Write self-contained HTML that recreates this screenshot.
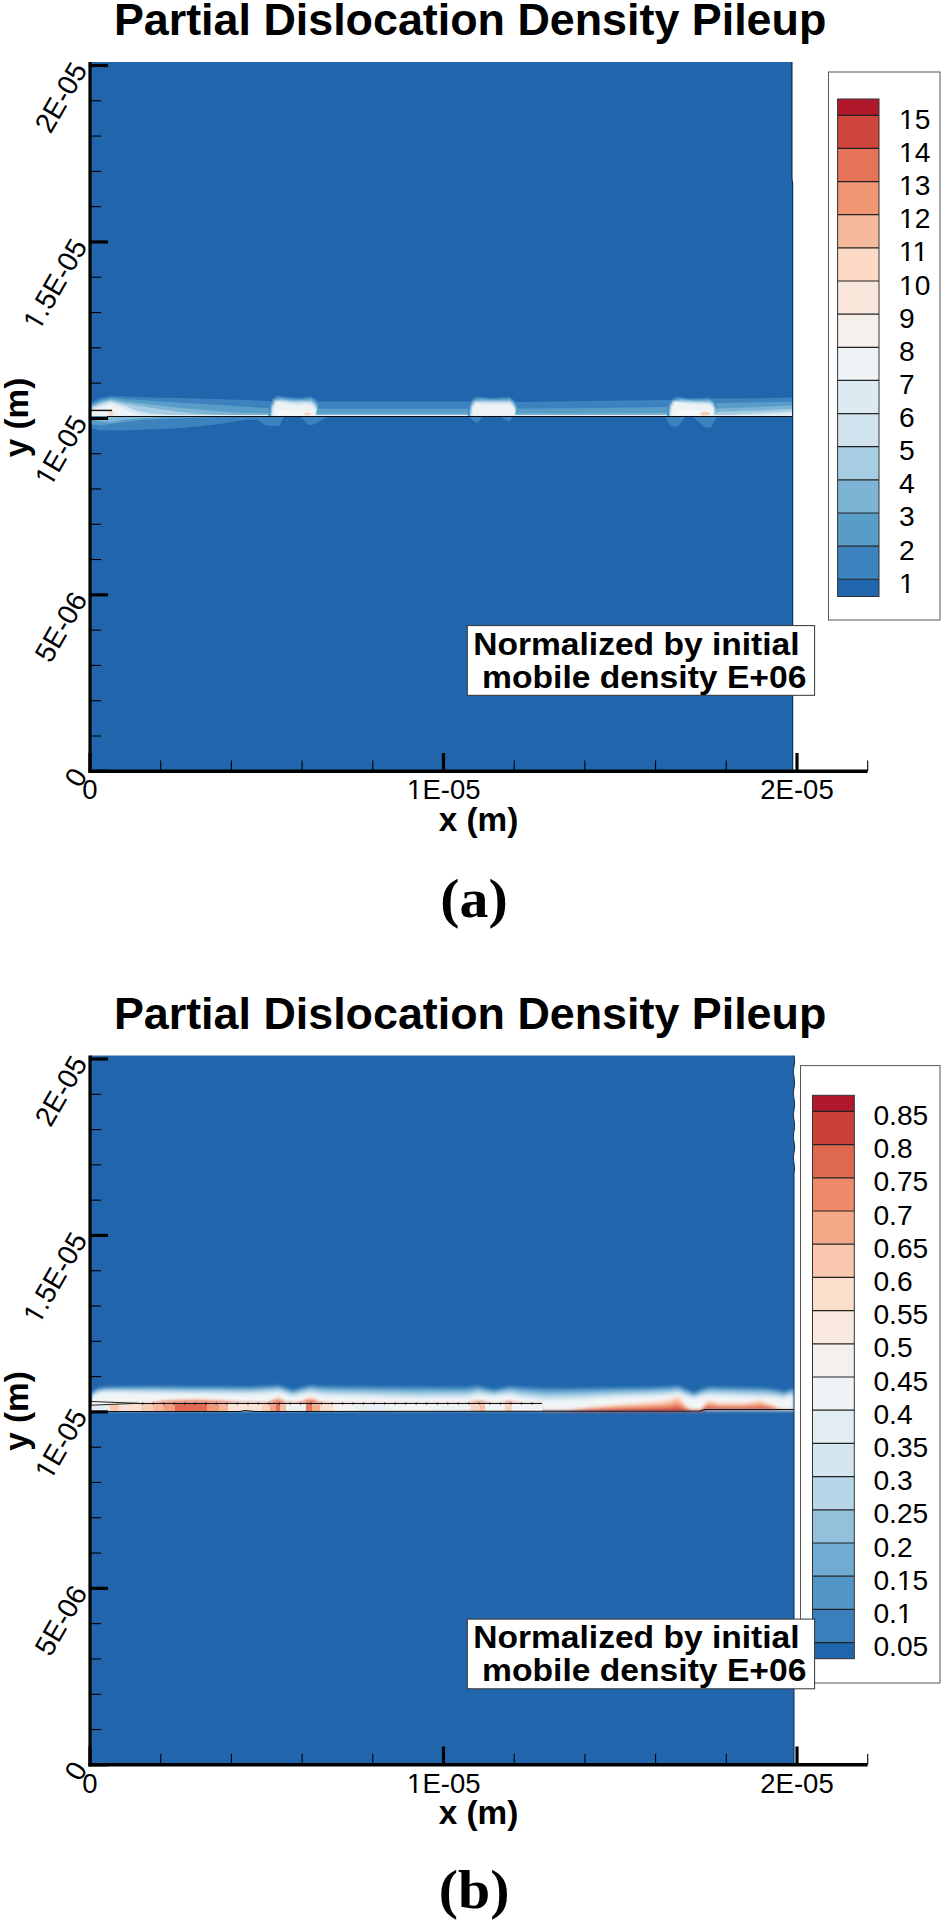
<!DOCTYPE html>
<html><head><meta charset="utf-8"><title>Partial Dislocation Density Pileup</title>
<style>html,body{margin:0;padding:0;background:#fff;} svg{display:block;}</style></head>
<body>
<svg width="943" height="1923" viewBox="0 0 943 1923">
<defs>
<clipPath id="clipB"><rect x="91.5" y="0" width="702.2" height="771"/></clipPath>
<clipPath id="clipA"><rect x="91.5" y="0" width="700.5" height="771"/></clipPath>
<filter id="soft" x="-5%" y="-50%" width="110%" height="200%"><feGaussianBlur stdDeviation="0.6"/></filter>
<filter id="soft2" x="-5%" y="-50%" width="110%" height="200%"><feGaussianBlur stdDeviation="1.5"/></filter>
<filter id="blur3" x="-50%" y="-100%" width="200%" height="300%"><feGaussianBlur stdDeviation="2.5"/></filter>
<linearGradient id="gb" x1="0" y1="0" x2="0" y2="1">
<stop offset="0" stop-color="#2166ac"/><stop offset="0.08" stop-color="#4a8fc4"/><stop offset="0.2" stop-color="#9cc8e0"/>
<stop offset="0.35" stop-color="#d8e8f2"/><stop offset="0.55" stop-color="#f0f4f6"/><stop offset="0.85" stop-color="#f6f5f4"/><stop offset="1" stop-color="#f8f0eb"/>
</linearGradient>
<linearGradient id="gv" x1="0" y1="0" x2="0" y2="1">
<stop offset="0" stop-color="#2166ac" stop-opacity="1"/><stop offset="0.5" stop-color="#4a8fc4" stop-opacity="0.8"/><stop offset="1" stop-color="#9cc8e0" stop-opacity="0"/>
</linearGradient>
</defs>
<rect width="943" height="1923" fill="#fff"/>
<g transform="translate(0,0)">
<text transform="translate(470.1,35.2) scale(1.031,1)" text-anchor="middle" font-family="'Liberation Sans', Arial, Helvetica, sans-serif" font-weight="bold" font-size="43.5">Partial Dislocation Density Pileup</text>
<path d="M90,62 H792.3 V179 L793.1,183 V771 H90 Z" fill="#2166ac"/>
<path d="M791.9,62 V179 L792.7,183 V771" fill="none" stroke="#15263d" stroke-width="1"/>
<g filter="url(#soft)">
<polygon points="90.0,403.0 92.0,402.0 100.0,398.0 111.0,396.0 125.0,396.5 148.0,397.6 180.0,398.0 230.0,399.5 268.0,401.0 320.0,401.5 400.0,401.5 466.0,401.5 520.0,402.0 560.0,401.5 620.0,400.5 665.0,400.0 718.0,398.6 760.0,398.2 792.0,397.5 792.0,416.5 90.0,416.5" fill="#3c82be" />
<polygon points="90.0,405.0 92.0,404.0 100.0,400.0 111.0,397.5 125.0,399.0 148.0,400.5 180.0,402.8 220.0,405.0 265.0,408.0 330.0,408.7 460.0,408.7 530.0,408.5 600.0,408.0 665.0,407.0 718.0,403.0 760.0,402.3 792.0,401.7 792.0,416.5 90.0,416.5" fill="#589cc8" />
<polygon points="90.0,406.5 92.0,405.5 100.0,401.5 111.0,399.0 125.0,401.5 148.0,404.0 180.0,408.0 240.0,413.0 330.0,413.4 600.0,413.4 665.0,413.0 718.0,408.6 760.0,407.0 792.0,405.5 792.0,416.5 90.0,416.5" fill="#7db4d6" />
<polygon points="90.0,408.0 92.0,407.0 100.0,403.0 111.0,400.3 125.0,403.5 148.0,407.2 180.0,412.0 200.0,414.0 230.0,415.0 700.0,415.0 720.0,412.0 760.0,410.5 792.0,409.0 792.0,416.5 90.0,416.5" fill="#a6cde2" />
<polygon points="90.0,409.5 92.0,408.5 100.0,404.5 111.0,401.6 125.0,405.5 135.0,410.0 148.0,413.0 170.0,415.0 190.0,415.2 730.0,415.2 745.0,414.0 792.0,411.5 792.0,416.5 90.0,416.5" fill="#d0e3ee" />
<polygon points="90.0,411.0 92.0,410.0 100.0,406.0 111.0,402.8 125.0,407.5 135.0,412.0 148.0,414.8 165.0,415.7 755.0,415.5 770.0,414.5 792.0,413.0 792.0,416.5 90.0,416.5" fill="#deeaf2" />
<polygon points="90.0,412.5 92.0,411.5 100.0,407.5 111.0,404.0 125.0,409.5 130.0,412.5 140.0,415.3 160.0,415.8 770.0,415.7 792.0,414.5 792.0,416.5 90.0,416.5" fill="#eef3f6" />
<rect x="91" y="415.0" width="701" height="1" fill="#e6f0f6"/>
<polygon points="268.5,416.5 269.5,405.0 272.5,399.0 277.0,395.6 288.0,397.0 300.0,397.8 311.0,396.5 316.0,399.5 319.5,405.0" fill="#3c82be" />
<polygon points="269.3,416.5 270.3,405.6 273.3,399.5 278.7,397.0 289.7,398.4 301.3,398.9 311.1,398.1 315.8,401.1 318.9,406.6" fill="#589cc8" />
<polygon points="270.1,416.5 271.1,406.1 274.1,400.0 280.4,398.4 291.4,399.9 302.6,400.0 311.3,399.6 315.6,402.8 318.4,408.3" fill="#7db4d6" />
<polygon points="270.9,416.5 271.9,406.7 274.9,400.5 282.1,399.8 293.1,401.3 303.9,401.1 311.4,401.2 315.4,404.4 317.8,409.9" fill="#a6cde2" />
<polygon points="271.6,416.5 272.6,407.3 275.6,401.0 283.9,401.3 294.9,402.7 305.1,402.2 311.6,402.8 315.1,406.1 317.2,411.6" fill="#d0e3ee" />
<polygon points="272.4,416.5 273.4,407.9 276.4,401.5 285.6,402.7 296.6,404.1 306.4,403.3 311.7,404.4 314.9,407.7 316.6,413.2" fill="#deeaf2" />
<polygon points="273.2,416.5 274.2,408.4 277.2,402.0 287.3,404.1 298.3,405.6 307.7,404.4 311.9,405.9 314.7,409.4 316.1,414.9" fill="#eef3f6" />
<polygon points="274.0,416.5 275.0,409.0 278.0,402.5 289.0,405.5 300.0,407.0 309.0,405.5 312.0,407.5 314.5,411.0 315.5,416.5" fill="#edf2f5" />
<polygon points="277.0,416.5 279.0,410.5 300.0,411.5 311.0,411.0 313.0,416.5" fill="#f6f7f7" />
<polygon points="467.8,416.5 469.0,405.0 472.0,399.5 476.3,396.5 490.0,398.0 509.4,397.0 514.0,400.0 518.0,406.0" fill="#3c82be" />
<polygon points="468.5,416.5 469.7,405.6 472.8,400.1 478.3,397.9 492.1,399.1 509.6,398.3 513.9,401.4 517.5,407.5" fill="#589cc8" />
<polygon points="469.3,416.5 470.4,406.1 473.6,400.8 480.2,399.4 494.3,400.1 509.9,399.6 513.9,402.9 517.0,409.0" fill="#7db4d6" />
<polygon points="470.0,416.5 471.1,406.7 474.4,401.4 482.2,400.8 496.4,401.2 510.1,400.9 513.8,404.3 516.5,410.5" fill="#a6cde2" />
<polygon points="470.8,416.5 471.9,407.3 475.1,402.1 484.1,402.2 498.6,402.3 510.3,402.1 513.7,405.7 516.0,412.0" fill="#d0e3ee" />
<polygon points="471.5,416.5 472.6,407.9 475.9,402.7 486.1,403.6 500.7,403.4 510.5,403.4 513.6,407.1 515.5,413.5" fill="#deeaf2" />
<polygon points="472.3,416.5 473.3,408.4 476.7,403.4 488.0,405.1 502.9,404.4 510.8,404.7 513.6,408.6 515.0,415.0" fill="#eef3f6" />
<polygon points="473.0,416.5 474.0,409.0 477.5,404.0 490.0,406.5 505.0,405.5 511.0,406.0 513.5,410.0 514.5,416.5" fill="#edf2f5" />
<polygon points="667.0,416.5 668.0,405.0 671.0,400.0 677.0,396.5 690.0,398.5 709.0,397.5 714.0,400.0 717.0,406.0" fill="#3c82be" />
<polygon points="667.7,416.5 668.7,405.5 671.8,400.4 678.9,397.9 692.3,399.5 709.3,398.9 713.8,401.4 716.5,407.5" fill="#589cc8" />
<polygon points="668.4,416.5 669.4,406.0 672.6,400.7 680.7,399.2 694.6,400.5 709.6,400.2 713.6,402.9 716.0,409.0" fill="#7db4d6" />
<polygon points="669.1,416.5 670.1,406.5 673.4,401.1 682.6,400.6 696.9,401.5 709.9,401.6 713.4,404.3 715.5,410.5" fill="#a6cde2" />
<polygon points="669.9,416.5 670.9,407.0 674.1,401.4 684.4,401.9 699.1,402.5 710.1,402.9 713.1,405.7 715.0,412.0" fill="#d0e3ee" />
<polygon points="670.6,416.5 671.6,407.5 674.9,401.8 686.3,403.3 701.4,403.5 710.4,404.3 712.9,407.1 714.5,413.5" fill="#deeaf2" />
<polygon points="671.3,416.5 672.3,408.0 675.7,402.1 688.1,404.6 703.7,404.5 710.7,405.6 712.7,408.6 714.0,415.0" fill="#eef3f6" />
<polygon points="672.0,416.5 673.0,408.5 676.5,402.5 690.0,406.0 706.0,405.5 711.0,407.0 712.5,410.0 713.5,416.5" fill="#edf2f5" />
<polygon points="675.0,416.5 678.0,409.5 700.0,410.5 709.0,410.0 711.0,416.5" fill="#f6f7f7" />
<ellipse cx="307.5" cy="413.8" rx="3.5" ry="1.6" fill="#f6d3c0"/>
<ellipse cx="705" cy="413.5" rx="5" ry="2" fill="#f6cdb8"/>
<ellipse cx="111" cy="413" rx="2.5" ry="3.2" fill="#f6d2bf" opacity="0.8"/>
<polygon points="90.0,416.5 90.0,428.0 100.0,430.5 130.0,430.3 180.0,428.3 220.0,424.0 245.0,419.8 258.0,420.0 266.0,425.6 279.5,426.0 284.0,416.5" fill="#3c82be" />
<polygon points="90.0,416.5 90.0,424.0 100.0,425.5 115.0,423.5 140.0,420.0 200.0,417.6 240.0,416.5" fill="#589cc8" />
<polygon points="92.0,416.5 97.0,421.0 111.0,422.5 125.0,419.5 150.0,418.0 170.0,416.5" fill="#7db4d6" />
<polygon points="300.7,416.5 308.0,424.9 314.0,424.5 328.0,416.5" fill="#3c82be" />
<polygon points="467.8,416.5 477.0,423.6 483.0,416.5" fill="#3c82be" />
<polygon points="500.0,416.5 509.4,422.0 512.8,416.5" fill="#3c82be" />
<polygon points="665.3,416.5 671.0,426.6 678.0,426.6 685.6,416.5" fill="#3c82be" />
<polygon points="692.4,416.5 705.0,427.4 711.0,427.4 717.0,416.5" fill="#3c82be" />
</g>
<line x1="107" y1="416.5" x2="792" y2="416.5" stroke="#0a0a0a" stroke-width="1.1"/>
<line x1="91" y1="410.4" x2="112" y2="410.4" stroke="#111" stroke-width="1.4"/>
<g stroke="#000" fill="none">
<line x1="90" y1="62" x2="90" y2="773" stroke-width="3.2"/>
<line x1="88.4" y1="771.3" x2="867.6" y2="771.3" stroke-width="3.6"/>
<line x1="90" y1="771.30" x2="108" y2="771.30" stroke-width="3.2"/>
<line x1="90" y1="736.01" x2="101" y2="736.01" stroke-width="1.1"/>
<line x1="90" y1="700.72" x2="101" y2="700.72" stroke-width="1.1"/>
<line x1="90" y1="665.43" x2="101" y2="665.43" stroke-width="1.1"/>
<line x1="90" y1="630.14" x2="101" y2="630.14" stroke-width="1.1"/>
<line x1="90" y1="594.85" x2="108" y2="594.85" stroke-width="3.2"/>
<line x1="90" y1="559.56" x2="101" y2="559.56" stroke-width="1.1"/>
<line x1="90" y1="524.27" x2="101" y2="524.27" stroke-width="1.1"/>
<line x1="90" y1="488.98" x2="101" y2="488.98" stroke-width="1.1"/>
<line x1="90" y1="453.69" x2="101" y2="453.69" stroke-width="1.1"/>
<line x1="90" y1="418.40" x2="108" y2="418.40" stroke-width="3.2"/>
<line x1="90" y1="383.11" x2="101" y2="383.11" stroke-width="1.1"/>
<line x1="90" y1="347.82" x2="101" y2="347.82" stroke-width="1.1"/>
<line x1="90" y1="312.53" x2="101" y2="312.53" stroke-width="1.1"/>
<line x1="90" y1="277.24" x2="101" y2="277.24" stroke-width="1.1"/>
<line x1="90" y1="241.95" x2="108" y2="241.95" stroke-width="3.2"/>
<line x1="90" y1="206.66" x2="101" y2="206.66" stroke-width="1.1"/>
<line x1="90" y1="171.37" x2="101" y2="171.37" stroke-width="1.1"/>
<line x1="90" y1="136.08" x2="101" y2="136.08" stroke-width="1.1"/>
<line x1="90" y1="100.79" x2="101" y2="100.79" stroke-width="1.1"/>
<line x1="90" y1="65.50" x2="108" y2="65.50" stroke-width="3.2"/>
<line x1="90.00" y1="771" x2="90.00" y2="753" stroke-width="3.2"/>
<line x1="160.70" y1="771" x2="160.70" y2="760.5" stroke-width="1.1"/>
<line x1="231.40" y1="771" x2="231.40" y2="760.5" stroke-width="1.1"/>
<line x1="302.10" y1="771" x2="302.10" y2="760.5" stroke-width="1.1"/>
<line x1="372.80" y1="771" x2="372.80" y2="760.5" stroke-width="1.1"/>
<line x1="443.50" y1="771" x2="443.50" y2="753" stroke-width="3.2"/>
<line x1="514.20" y1="771" x2="514.20" y2="760.5" stroke-width="1.1"/>
<line x1="584.90" y1="771" x2="584.90" y2="760.5" stroke-width="1.1"/>
<line x1="655.60" y1="771" x2="655.60" y2="760.5" stroke-width="1.1"/>
<line x1="726.30" y1="771" x2="726.30" y2="760.5" stroke-width="1.1"/>
<line x1="797.00" y1="771" x2="797.00" y2="753" stroke-width="3.2"/>
<line x1="867.70" y1="771" x2="867.70" y2="760.5" stroke-width="1.1"/>
</g>
<g font-family="'Liberation Sans', Arial, Helvetica, sans-serif" font-size="27.5" text-anchor="middle">
<text x="90" y="799">0</text><g transform="translate(443.80,799.00)"><text id="Lax1" x="0" y="0" text-anchor="middle" font-size="27.5">1E-05</text><rect x="-35.60" y="-2.60" width="5.74" height="3.55" fill="#fff"/><rect x="-27.27" y="-2.60" width="6.19" height="3.55" fill="#fff"/></g><text x="797" y="799">2E-05</text>
</g>
<g font-family="'Liberation Sans', Arial, Helvetica, sans-serif" font-size="28.2" text-anchor="end">
<text transform="translate(88.00,775.50) rotate(-60)">0</text>
<text transform="translate(88.00,599.05) rotate(-60)">5E-06</text>
<g transform="translate(88.00,422.60) rotate(-60)"><text id="Lay2" x="0" y="0" text-anchor="end" font-size="28.2">1E-05</text><rect x="-74.09" y="-2.66" width="5.88" height="3.61" fill="#fff"/><rect x="-65.56" y="-2.66" width="6.35" height="3.61" fill="#fff"/></g>
<g transform="translate(88.00,246.15) rotate(-60)"><text id="Lay3" x="0" y="0" text-anchor="end" font-size="28.2">1.5E-05</text><rect x="-97.61" y="-2.66" width="5.88" height="3.61" fill="#fff"/><rect x="-89.07" y="-2.66" width="6.35" height="3.61" fill="#fff"/></g>
<text transform="translate(88.00,69.70) rotate(-60)">2E-05</text>
</g>
<text transform="translate(478.5,830.7) scale(1.025,1)" text-anchor="middle" font-family="'Liberation Sans', Arial, Helvetica, sans-serif" font-weight="bold" font-size="32.5">x (m)</text>
<text transform="translate(27.6,417.5) rotate(-90) scale(1.025,1)" text-anchor="middle" font-family="'Liberation Sans', Arial, Helvetica, sans-serif" font-weight="bold" font-size="32.5">y (m)</text>
<rect x="828.5" y="72" width="111.5" height="548" fill="#fff" stroke="#555" stroke-width="1"/>
<rect x="837.6" y="99.00" width="41.39999999999998" height="16.30" fill="#b2182b"/>
<rect x="837.6" y="115.30" width="41.39999999999998" height="33.14" fill="#cf453c"/>
<rect x="837.6" y="148.44" width="41.39999999999998" height="33.14" fill="#e47358"/>
<rect x="837.6" y="181.58" width="41.39999999999998" height="33.14" fill="#f09673"/>
<rect x="837.6" y="214.72" width="41.39999999999998" height="33.14" fill="#f5b99b"/>
<rect x="837.6" y="247.86" width="41.39999999999998" height="33.14" fill="#fcdac6"/>
<rect x="837.6" y="281.00" width="41.39999999999998" height="33.14" fill="#f8e6da"/>
<rect x="837.6" y="314.14" width="41.39999999999998" height="33.14" fill="#f6f0ec"/>
<rect x="837.6" y="347.28" width="41.39999999999998" height="33.14" fill="#eef3f6"/>
<rect x="837.6" y="380.42" width="41.39999999999998" height="33.14" fill="#deeaf2"/>
<rect x="837.6" y="413.56" width="41.39999999999998" height="33.14" fill="#d0e3ee"/>
<rect x="837.6" y="446.70" width="41.39999999999998" height="33.14" fill="#a6cde2"/>
<rect x="837.6" y="479.84" width="41.39999999999998" height="33.14" fill="#7db4d6"/>
<rect x="837.6" y="512.98" width="41.39999999999998" height="33.14" fill="#589cc8"/>
<rect x="837.6" y="546.12" width="41.39999999999998" height="33.14" fill="#3c82be"/>
<rect x="837.6" y="579.26" width="41.39999999999998" height="17.24" fill="#2166ac"/>
<g stroke="#222" stroke-width="1.2">
<line x1="837.6" y1="115.30" x2="879" y2="115.30"/>
<line x1="837.6" y1="148.44" x2="879" y2="148.44"/>
<line x1="837.6" y1="181.58" x2="879" y2="181.58"/>
<line x1="837.6" y1="214.72" x2="879" y2="214.72"/>
<line x1="837.6" y1="247.86" x2="879" y2="247.86"/>
<line x1="837.6" y1="281.00" x2="879" y2="281.00"/>
<line x1="837.6" y1="314.14" x2="879" y2="314.14"/>
<line x1="837.6" y1="347.28" x2="879" y2="347.28"/>
<line x1="837.6" y1="380.42" x2="879" y2="380.42"/>
<line x1="837.6" y1="413.56" x2="879" y2="413.56"/>
<line x1="837.6" y1="446.70" x2="879" y2="446.70"/>
<line x1="837.6" y1="479.84" x2="879" y2="479.84"/>
<line x1="837.6" y1="512.98" x2="879" y2="512.98"/>
<line x1="837.6" y1="546.12" x2="879" y2="546.12"/>
<line x1="837.6" y1="579.26" x2="879" y2="579.26"/>
</g>
<rect x="837.6" y="99" width="41.39999999999998" height="497.5" fill="none" stroke="#333" stroke-width="1"/>
<g font-family="'Liberation Sans', Arial, Helvetica, sans-serif" font-size="28.2">
<g transform="translate(899.00,128.80)"><text id="L899_15" x="0" y="0" text-anchor="start" font-size="28.2">15</text><rect x="1.13" y="-2.66" width="5.88" height="3.61" fill="#fff"/><rect x="9.66" y="-2.66" width="6.35" height="3.61" fill="#fff"/></g>
<g transform="translate(899.00,161.94)"><text id="L899_14" x="0" y="0" text-anchor="start" font-size="28.2">14</text><rect x="1.13" y="-2.66" width="5.88" height="3.61" fill="#fff"/><rect x="9.66" y="-2.66" width="6.35" height="3.61" fill="#fff"/></g>
<g transform="translate(899.00,195.08)"><text id="L899_13" x="0" y="0" text-anchor="start" font-size="28.2">13</text><rect x="1.13" y="-2.66" width="5.88" height="3.61" fill="#fff"/><rect x="9.66" y="-2.66" width="6.35" height="3.61" fill="#fff"/></g>
<g transform="translate(899.00,228.22)"><text id="L899_12" x="0" y="0" text-anchor="start" font-size="28.2">12</text><rect x="1.13" y="-2.66" width="5.88" height="3.61" fill="#fff"/><rect x="9.66" y="-2.66" width="6.35" height="3.61" fill="#fff"/></g>
<g transform="translate(899.00,261.36)"><text id="L899_11" x="0" y="0" text-anchor="start" font-size="28.2">11</text><rect x="1.13" y="-2.66" width="5.88" height="3.61" fill="#fff"/><rect x="9.66" y="-2.66" width="6.35" height="3.61" fill="#fff"/><rect x="14.71" y="-2.66" width="5.88" height="3.61" fill="#fff"/><rect x="23.24" y="-2.66" width="6.35" height="3.61" fill="#fff"/></g>
<g transform="translate(899.00,294.50)"><text id="L899_10" x="0" y="0" text-anchor="start" font-size="28.2">10</text><rect x="1.13" y="-2.66" width="5.88" height="3.61" fill="#fff"/><rect x="9.66" y="-2.66" width="6.35" height="3.61" fill="#fff"/></g>
<text x="899" y="327.64">9</text>
<text x="899" y="360.78">8</text>
<text x="899" y="393.92">7</text>
<text x="899" y="427.06">6</text>
<text x="899" y="460.20">5</text>
<text x="899" y="493.34">4</text>
<text x="899" y="526.48">3</text>
<text x="899" y="559.62">2</text>
<g transform="translate(899.00,592.76)"><text id="L899_1" x="0" y="0" text-anchor="start" font-size="28.2">1</text><rect x="1.13" y="-2.66" width="5.88" height="3.61" fill="#fff"/><rect x="9.66" y="-2.66" width="6.35" height="3.61" fill="#fff"/></g>
</g>
<rect x="467.3" y="625.6" width="347.3" height="69.7" fill="#fff" stroke="#333" stroke-width="1"/>
<g font-family="'Liberation Sans', Arial, Helvetica, sans-serif" font-weight="bold" font-size="31.8">
<text transform="translate(473.2,654.6) scale(1.056,1)">Normalized by initial</text>
<text transform="translate(482.1,687.6) scale(1.058,1)">mobile density E+06</text>
</g>
</g>
<g transform="translate(0,993.5)">
<text transform="translate(470.1,35.2) scale(1.031,1)" text-anchor="middle" font-family="'Liberation Sans', Arial, Helvetica, sans-serif" font-weight="bold" font-size="43.5">Partial Dislocation Density Pileup</text>
<path d="M90,62 L794.00,62.0 L794.25,63.5 L794.46,65.0 L794.58,66.5 L794.59,68.0 L794.49,69.5 L794.30,71.0 L794.05,72.5 L793.79,74.0 L793.58,75.5 L793.44,77.0 L793.40,78.5 L793.48,80.0 L793.66,81.5 L793.90,83.0 L794.16,84.5 L794.39,86.0 L794.54,87.5 L794.60,89.0 L794.54,90.5 L794.39,92.0 L794.16,93.5 L793.90,95.0 L793.66,96.5 L793.48,98.0 L793.40,99.5 L793.44,101.0 L793.58,102.5 L793.79,104.0 L794.05,105.5 L794.30,107.0 L794.49,108.5 L794.59,110.0 L794.58,111.5 L794.46,113.0 L794.25,114.5 L794.00,116.0 L793.75,117.5 L793.54,119.0 L793.42,120.5 L793.41,122.0 L793.51,123.5 L793.70,125.0 L793.95,126.5 L794.21,128.0 L794.42,129.5 L794.56,131.0 L794.60,132.5 L794.52,134.0 L794.34,135.5 L794.10,137.0 L793.84,138.5 L793.61,140.0 L793.46,141.5 L793.40,143.0 L793.46,144.5 L793.61,146.0 L793.84,147.5 L794.10,149.0 L794.34,150.5 L794.52,152.0 L794.60,153.5 L794.56,155.0 L794.42,156.5 L794.21,158.0 L793.95,159.5 L793.70,161.0 L793.51,162.5 L793.41,164.0 L793.42,165.5 L793.54,167.0 L793.75,168.5 L794.00,170.0 L794.25,171.5 L794.46,173.0 L794.58,174.5 L794.59,176.0 L794,180 V771 H90 Z" fill="#2166ac"/>
<path d="M794.00,62.0 L794.25,63.5 L794.46,65.0 L794.58,66.5 L794.59,68.0 L794.49,69.5 L794.30,71.0 L794.05,72.5 L793.79,74.0 L793.58,75.5 L793.44,77.0 L793.40,78.5 L793.48,80.0 L793.66,81.5 L793.90,83.0 L794.16,84.5 L794.39,86.0 L794.54,87.5 L794.60,89.0 L794.54,90.5 L794.39,92.0 L794.16,93.5 L793.90,95.0 L793.66,96.5 L793.48,98.0 L793.40,99.5 L793.44,101.0 L793.58,102.5 L793.79,104.0 L794.05,105.5 L794.30,107.0 L794.49,108.5 L794.59,110.0 L794.58,111.5 L794.46,113.0 L794.25,114.5 L794.00,116.0 L793.75,117.5 L793.54,119.0 L793.42,120.5 L793.41,122.0 L793.51,123.5 L793.70,125.0 L793.95,126.5 L794.21,128.0 L794.42,129.5 L794.56,131.0 L794.60,132.5 L794.52,134.0 L794.34,135.5 L794.10,137.0 L793.84,138.5 L793.61,140.0 L793.46,141.5 L793.40,143.0 L793.46,144.5 L793.61,146.0 L793.84,147.5 L794.10,149.0 L794.34,150.5 L794.52,152.0 L794.60,153.5 L794.56,155.0 L794.42,156.5 L794.21,158.0 L793.95,159.5 L793.70,161.0 L793.51,162.5 L793.41,164.0 L793.42,165.5 L793.54,167.0 L793.75,168.5 L794.00,170.0 L794.25,171.5 L794.46,173.0 L794.58,174.5 L794.59,176.0 L794,180 V771" fill="none" stroke="#15263d" stroke-width="1"/>
<g clip-path="url(#clipB)"><g filter="url(#soft2)">
<polygon points="91.0,399.5 94.0,396.8 97.0,394.8 100.0,394.1 103.0,393.4 106.0,393.0 109.0,393.0 112.0,392.9 115.0,392.9 118.0,392.9 121.0,392.8 124.0,392.8 127.0,392.8 130.0,392.7 133.0,392.7 136.0,392.7 139.0,392.6 142.0,392.6 145.0,392.6 148.0,392.5 151.0,392.5 154.0,392.5 157.0,392.5 160.0,392.5 163.0,392.6 166.0,392.6 169.0,392.6 172.0,392.6 175.0,392.6 178.0,392.6 181.0,392.7 184.0,392.7 187.0,392.7 190.0,392.7 193.0,392.7 196.0,392.7 199.0,392.7 202.0,392.8 205.0,392.8 208.0,392.8 211.0,392.8 214.0,392.8 217.0,392.8 220.0,392.8 223.0,392.9 226.0,392.9 229.0,392.9 232.0,392.9 235.0,392.9 238.0,392.9 241.0,393.0 244.0,393.0 247.0,393.0 250.0,393.0 253.0,392.9 256.0,392.7 259.0,392.6 262.0,392.5 265.0,392.3 268.0,392.2 271.0,392.0 274.0,391.8 277.0,391.5 280.0,391.7 283.0,392.8 286.0,394.0 289.0,395.1 292.0,396.1 295.0,395.8 298.0,394.7 301.0,393.8 304.0,393.0 307.0,392.3 310.0,391.5 313.0,391.6 316.0,392.0 319.0,392.4 322.0,392.5 325.0,392.5 328.0,392.5 331.0,392.6 334.0,392.6 337.0,392.6 340.0,392.6 343.0,392.6 346.0,392.7 349.0,392.7 352.0,392.7 355.0,392.7 358.0,392.7 361.0,392.8 364.0,392.8 367.0,392.8 370.0,392.8 373.0,392.8 376.0,392.8 379.0,392.9 382.0,392.9 385.0,392.9 388.0,392.9 391.0,392.9 394.0,393.0 397.0,393.0 400.0,393.0 403.0,393.0 406.0,393.0 409.0,393.1 412.0,393.1 415.0,393.1 418.0,393.1 421.0,393.2 424.0,393.2 427.0,393.2 430.0,393.2 433.0,393.3 436.0,393.3 439.0,393.3 442.0,393.3 445.0,393.3 448.0,393.4 451.0,393.4 454.0,393.4 457.0,393.4 460.0,393.5 463.0,393.5 466.0,393.4 469.0,393.0 472.0,392.7 475.0,392.3 478.0,392.0 481.0,392.8 484.0,393.5 487.0,394.2 490.0,395.0 493.0,395.8 496.0,395.5 499.0,394.8 502.0,394.0 505.0,393.4 508.0,392.7 511.0,392.4 514.0,392.6 517.0,392.9 520.0,393.1 523.0,393.3 526.0,393.5 529.0,393.7 532.0,393.8 535.0,394.0 538.0,394.2 541.0,394.3 544.0,394.5 547.0,394.5 550.0,394.5 553.0,394.5 556.0,394.5 559.0,394.5 562.0,394.5 565.0,394.5 568.0,394.5 571.0,394.5 574.0,394.4 577.0,394.4 580.0,394.3 583.0,394.3 586.0,394.2 589.0,394.2 592.0,394.1 595.0,394.1 598.0,394.0 601.0,394.0 604.0,394.0 607.0,393.9 610.0,393.9 613.0,393.9 616.0,393.8 619.0,393.8 622.0,393.8 625.0,393.8 628.0,393.7 631.0,393.7 634.0,393.7 637.0,393.6 640.0,393.6 643.0,393.6 646.0,393.5 649.0,393.5 652.0,393.4 655.0,393.3 658.0,393.1 661.0,393.0 664.0,392.9 667.0,392.7 670.0,392.6 673.0,392.3 676.0,391.8 679.0,392.0 682.0,393.5 685.0,395.0 688.0,396.2 691.0,397.4 694.0,398.5 697.0,397.2 700.0,395.9 703.0,394.8 706.0,393.7 709.0,393.0 712.0,393.1 715.0,393.1 718.0,393.2 721.0,393.2 724.0,393.2 727.0,393.3 730.0,393.3 733.0,393.4 736.0,393.4 739.0,393.5 742.0,393.5 745.0,393.6 748.0,393.7 751.0,393.7 754.0,393.8 757.0,393.8 760.0,393.9 763.0,394.0 766.0,394.1 769.0,394.5 772.0,395.0 775.0,395.4 778.0,396.0 781.0,396.8 784.0,397.5 787.0,396.5 790.0,395.5 793.0,394.7 793.7,394.5 793.7,417.5 91.0,417.5" fill="#3f88c0" />
<polygon points="91.0,400.4 94.0,397.7 97.0,395.7 100.0,395.1 103.0,394.4 106.0,394.0 109.0,393.9 112.0,393.9 115.0,393.9 118.0,393.9 121.0,393.9 124.0,393.9 127.0,393.8 130.0,393.8 133.0,393.8 136.0,393.8 139.0,393.8 142.0,393.7 145.0,393.7 148.0,393.7 151.0,393.7 154.0,393.7 157.0,393.7 160.0,393.8 163.0,393.8 166.0,393.8 169.0,393.8 172.0,393.8 175.0,393.9 178.0,393.9 181.0,393.9 184.0,393.9 187.0,393.9 190.0,394.0 193.0,394.0 196.0,394.0 199.0,394.0 202.0,394.0 205.0,394.1 208.0,394.1 211.0,394.1 214.0,394.1 217.0,394.1 220.0,394.1 223.0,394.2 226.0,394.2 229.0,394.2 232.0,394.2 235.0,394.2 238.0,394.3 241.0,394.3 244.0,394.3 247.0,394.3 250.0,394.3 253.0,394.2 256.0,394.1 259.0,393.9 262.0,393.8 265.0,393.6 268.0,393.5 271.0,393.3 274.0,393.1 277.0,392.8 280.0,392.9 283.0,394.1 286.0,395.2 289.0,396.3 292.0,397.3 295.0,397.0 298.0,396.0 301.0,395.1 304.0,394.4 307.0,393.7 310.0,393.0 313.0,393.0 316.0,393.4 319.0,393.9 322.0,394.1 325.0,394.1 328.0,394.2 331.0,394.2 334.0,394.3 337.0,394.3 340.0,394.3 343.0,394.3 346.0,394.4 349.0,394.4 352.0,394.4 355.0,394.5 358.0,394.5 361.0,394.5 364.0,394.5 367.0,394.6 370.0,394.6 373.0,394.6 376.0,394.7 379.0,394.7 382.0,394.7 385.0,394.7 388.0,394.8 391.0,394.8 394.0,394.8 397.0,394.9 400.0,394.9 403.0,394.9 406.0,394.9 409.0,395.0 412.0,395.0 415.0,395.0 418.0,395.1 421.0,395.1 424.0,395.1 427.0,395.1 430.0,395.2 433.0,395.2 436.0,395.2 439.0,395.2 442.0,395.2 445.0,395.2 448.0,395.2 451.0,395.2 454.0,395.3 457.0,395.3 460.0,395.3 463.0,395.3 466.0,395.2 469.0,394.8 472.0,394.4 475.0,394.0 478.0,393.6 481.0,394.3 484.0,394.9 487.0,395.6 490.0,396.3 493.0,397.0 496.0,396.7 499.0,396.1 502.0,395.4 505.0,394.8 508.0,394.2 511.0,394.0 514.0,394.3 517.0,394.6 520.0,394.9 523.0,395.2 526.0,395.4 529.0,395.6 532.0,395.8 535.0,396.0 538.0,396.2 541.0,396.4 544.0,396.5 547.0,396.6 550.0,396.6 553.0,396.6 556.0,396.6 559.0,396.5 562.0,396.5 565.0,396.5 568.0,396.5 571.0,396.5 574.0,396.4 577.0,396.3 580.0,396.3 583.0,396.2 586.0,396.1 589.0,396.1 592.0,396.0 595.0,395.9 598.0,395.8 601.0,395.8 604.0,395.7 607.0,395.7 610.0,395.6 613.0,395.6 616.0,395.5 619.0,395.5 622.0,395.4 625.0,395.4 628.0,395.3 631.0,395.3 634.0,395.3 637.0,395.2 640.0,395.2 643.0,395.2 646.0,395.1 649.0,395.1 652.0,395.0 655.0,394.8 658.0,394.7 661.0,394.5 664.0,394.4 667.0,394.2 670.0,394.1 673.0,393.8 676.0,393.3 679.0,393.4 682.0,394.9 685.0,396.3 688.0,397.5 691.0,398.6 694.0,399.7 697.0,398.5 700.0,397.2 703.0,396.2 706.0,395.1 709.0,394.5 712.0,394.6 715.0,394.6 718.0,394.7 721.0,394.7 724.0,394.8 727.0,394.8 730.0,394.9 733.0,395.0 736.0,395.0 739.0,395.1 742.0,395.1 745.0,395.2 748.0,395.3 751.0,395.3 754.0,395.4 757.0,395.5 760.0,395.6 763.0,395.6 766.0,395.7 769.0,396.1 772.0,396.5 775.0,396.8 778.0,397.4 781.0,398.1 784.0,398.9 787.0,397.9 790.0,396.9 793.0,396.0 793.7,395.9 793.7,417.5 91.0,417.5" fill="#5f9fcc" />
<polygon points="91.0,401.4 94.0,398.8 97.0,396.8 100.0,396.1 103.0,395.5 106.0,395.1 109.0,395.1 112.0,395.1 115.0,395.1 118.0,395.1 121.0,395.1 124.0,395.1 127.0,395.1 130.0,395.1 133.0,395.1 136.0,395.1 139.0,395.1 142.0,395.1 145.0,395.1 148.0,395.1 151.0,395.1 154.0,395.1 157.0,395.1 160.0,395.1 163.0,395.2 166.0,395.2 169.0,395.2 172.0,395.2 175.0,395.3 178.0,395.3 181.0,395.3 184.0,395.3 187.0,395.4 190.0,395.4 193.0,395.4 196.0,395.4 199.0,395.4 202.0,395.5 205.0,395.5 208.0,395.5 211.0,395.5 214.0,395.6 217.0,395.6 220.0,395.6 223.0,395.6 226.0,395.7 229.0,395.7 232.0,395.7 235.0,395.7 238.0,395.8 241.0,395.8 244.0,395.8 247.0,395.8 250.0,395.9 253.0,395.7 256.0,395.6 259.0,395.5 262.0,395.3 265.0,395.1 268.0,395.0 271.0,394.8 274.0,394.5 277.0,394.2 280.0,394.4 283.0,395.5 286.0,396.6 289.0,397.7 292.0,398.7 295.0,398.4 298.0,397.4 301.0,396.5 304.0,395.9 307.0,395.2 310.0,394.5 313.0,394.6 316.0,395.1 319.0,395.6 322.0,395.8 325.0,395.9 328.0,396.0 331.0,396.1 334.0,396.1 337.0,396.2 340.0,396.2 343.0,396.3 346.0,396.3 349.0,396.3 352.0,396.4 355.0,396.4 358.0,396.5 361.0,396.5 364.0,396.5 367.0,396.6 370.0,396.6 373.0,396.7 376.0,396.7 379.0,396.7 382.0,396.8 385.0,396.8 388.0,396.9 391.0,396.9 394.0,396.9 397.0,397.0 400.0,397.0 403.0,397.1 406.0,397.1 409.0,397.2 412.0,397.2 415.0,397.2 418.0,397.3 421.0,397.3 424.0,397.3 427.0,397.3 430.0,397.3 433.0,397.3 436.0,397.3 439.0,397.3 442.0,397.3 445.0,397.3 448.0,397.4 451.0,397.4 454.0,397.4 457.0,397.4 460.0,397.4 463.0,397.4 466.0,397.3 469.0,396.9 472.0,396.4 475.0,395.9 478.0,395.4 481.0,396.0 484.0,396.6 487.0,397.2 490.0,397.8 493.0,398.4 496.0,398.2 499.0,397.6 502.0,397.0 505.0,396.5 508.0,396.0 511.0,395.8 514.0,396.2 517.0,396.6 520.0,396.9 523.0,397.3 526.0,397.5 529.0,397.8 532.0,398.0 535.0,398.2 538.0,398.5 541.0,398.7 544.0,398.9 547.0,399.0 550.0,398.9 553.0,398.9 556.0,398.9 559.0,398.9 562.0,398.8 565.0,398.8 568.0,398.8 571.0,398.7 574.0,398.6 577.0,398.6 580.0,398.5 583.0,398.4 586.0,398.3 589.0,398.2 592.0,398.1 595.0,398.0 598.0,397.9 601.0,397.8 604.0,397.7 607.0,397.7 610.0,397.6 613.0,397.5 616.0,397.4 619.0,397.3 622.0,397.3 625.0,397.2 628.0,397.2 631.0,397.1 634.0,397.1 637.0,397.0 640.0,397.0 643.0,396.9 646.0,396.9 649.0,396.9 652.0,396.7 655.0,396.6 658.0,396.4 661.0,396.3 664.0,396.1 667.0,396.0 670.0,395.8 673.0,395.5 676.0,394.9 679.0,395.0 682.0,396.4 685.0,397.8 688.0,399.0 691.0,400.0 694.0,401.1 697.0,399.9 700.0,398.7 703.0,397.7 706.0,396.8 709.0,396.2 712.0,396.3 715.0,396.3 718.0,396.4 721.0,396.5 724.0,396.5 727.0,396.6 730.0,396.7 733.0,396.7 736.0,396.8 739.0,396.9 742.0,396.9 745.0,397.0 748.0,397.1 751.0,397.2 754.0,397.3 757.0,397.3 760.0,397.4 763.0,397.4 766.0,397.5 769.0,397.8 772.0,398.2 775.0,398.5 778.0,399.0 781.0,399.7 784.0,400.4 787.0,399.4 790.0,398.4 793.0,397.6 793.7,397.4 793.7,417.5 91.0,417.5" fill="#86bbda" />
<polygon points="91.0,402.5 94.0,399.9 97.0,397.9 100.0,397.3 103.0,396.6 106.0,396.2 109.0,396.3 112.0,396.3 115.0,396.3 118.0,396.3 121.0,396.3 124.0,396.3 127.0,396.4 130.0,396.4 133.0,396.4 136.0,396.4 139.0,396.4 142.0,396.5 145.0,396.5 148.0,396.5 151.0,396.5 154.0,396.5 157.0,396.6 160.0,396.6 163.0,396.6 166.0,396.7 169.0,396.7 172.0,396.7 175.0,396.7 178.0,396.8 181.0,396.8 184.0,396.8 187.0,396.9 190.0,396.9 193.0,396.9 196.0,396.9 199.0,397.0 202.0,397.0 205.0,397.0 208.0,397.1 211.0,397.1 214.0,397.1 217.0,397.1 220.0,397.2 223.0,397.2 226.0,397.2 229.0,397.3 232.0,397.3 235.0,397.3 238.0,397.3 241.0,397.4 244.0,397.4 247.0,397.4 250.0,397.5 253.0,397.3 256.0,397.2 259.0,397.1 262.0,396.9 265.0,396.7 268.0,396.6 271.0,396.4 274.0,396.1 277.0,395.7 280.0,395.9 283.0,397.0 286.0,398.1 289.0,399.1 292.0,400.2 295.0,399.9 298.0,398.9 301.0,398.1 304.0,397.5 307.0,396.8 310.0,396.2 313.0,396.4 316.0,396.9 319.0,397.4 322.0,397.7 325.0,397.8 328.0,398.0 331.0,398.1 334.0,398.1 337.0,398.2 340.0,398.2 343.0,398.3 346.0,398.3 349.0,398.4 352.0,398.4 355.0,398.5 358.0,398.5 361.0,398.6 364.0,398.7 367.0,398.7 370.0,398.8 373.0,398.8 376.0,398.9 379.0,398.9 382.0,399.0 385.0,399.0 388.0,399.1 391.0,399.1 394.0,399.2 397.0,399.2 400.0,399.3 403.0,399.3 406.0,399.4 409.0,399.4 412.0,399.5 415.0,399.6 418.0,399.6 421.0,399.7 424.0,399.6 427.0,399.6 430.0,399.6 433.0,399.6 436.0,399.6 439.0,399.6 442.0,399.6 445.0,399.6 448.0,399.6 451.0,399.6 454.0,399.6 457.0,399.6 460.0,399.6 463.0,399.6 466.0,399.4 469.0,399.0 472.0,398.5 475.0,397.9 478.0,397.3 481.0,397.8 484.0,398.3 487.0,398.8 490.0,399.3 493.0,399.8 496.0,399.7 499.0,399.1 502.0,398.6 505.0,398.2 508.0,397.8 511.0,397.7 514.0,398.2 517.0,398.6 520.0,399.1 523.0,399.5 526.0,399.8 529.0,400.1 532.0,400.3 535.0,400.6 538.0,400.9 541.0,401.1 544.0,401.4 547.0,401.5 550.0,401.4 553.0,401.4 556.0,401.3 559.0,401.3 562.0,401.3 565.0,401.2 568.0,401.2 571.0,401.1 574.0,401.0 577.0,400.9 580.0,400.8 583.0,400.7 586.0,400.6 589.0,400.5 592.0,400.3 595.0,400.2 598.0,400.1 601.0,400.0 604.0,399.9 607.0,399.8 610.0,399.7 613.0,399.5 616.0,399.4 619.0,399.3 622.0,399.3 625.0,399.2 628.0,399.1 631.0,399.1 634.0,399.0 637.0,399.0 640.0,398.9 643.0,398.8 646.0,398.8 649.0,398.7 652.0,398.6 655.0,398.4 658.0,398.3 661.0,398.1 664.0,397.9 667.0,397.8 670.0,397.6 673.0,397.3 676.0,396.7 679.0,396.7 682.0,398.0 685.0,399.4 688.0,400.5 691.0,401.5 694.0,402.5 697.0,401.4 700.0,400.3 703.0,399.3 706.0,398.5 709.0,398.0 712.0,398.1 715.0,398.2 718.0,398.2 721.0,398.3 724.0,398.4 727.0,398.5 730.0,398.5 733.0,398.6 736.0,398.7 739.0,398.8 742.0,398.9 745.0,398.9 748.0,399.0 751.0,399.1 754.0,399.2 757.0,399.3 760.0,399.4 763.0,399.3 766.0,399.4 769.0,399.7 772.0,400.0 775.0,400.2 778.0,400.8 781.0,401.4 784.0,402.0 787.0,401.0 790.0,400.0 793.0,399.2 793.7,399.0 793.7,417.5 91.0,417.5" fill="#add2e6" />
<polygon points="91.0,403.6 94.0,400.9 97.0,399.0 100.0,398.4 103.0,397.8 106.0,397.4 109.0,397.5 112.0,397.5 115.0,397.5 118.0,397.6 121.0,397.6 124.0,397.6 127.0,397.7 130.0,397.7 133.0,397.7 136.0,397.8 139.0,397.8 142.0,397.8 145.0,397.9 148.0,397.9 151.0,398.0 154.0,398.0 157.0,398.0 160.0,398.1 163.0,398.1 166.0,398.1 169.0,398.2 172.0,398.2 175.0,398.2 178.0,398.3 181.0,398.3 184.0,398.3 187.0,398.4 190.0,398.4 193.0,398.4 196.0,398.5 199.0,398.5 202.0,398.5 205.0,398.6 208.0,398.6 211.0,398.6 214.0,398.7 217.0,398.7 220.0,398.7 223.0,398.8 226.0,398.8 229.0,398.8 232.0,398.9 235.0,398.9 238.0,398.9 241.0,399.0 244.0,399.0 247.0,399.0 250.0,399.1 253.0,398.9 256.0,398.8 259.0,398.7 262.0,398.5 265.0,398.3 268.0,398.1 271.0,397.9 274.0,397.6 277.0,397.3 280.0,397.4 283.0,398.5 286.0,399.6 289.0,400.6 292.0,401.6 295.0,401.3 298.0,400.4 301.0,399.6 304.0,399.1 307.0,398.5 310.0,397.9 313.0,398.1 316.0,398.7 319.0,399.2 322.0,399.6 325.0,399.7 328.0,399.9 331.0,400.1 334.0,400.1 337.0,400.2 340.0,400.3 343.0,400.3 346.0,400.4 349.0,400.4 352.0,400.5 355.0,400.6 358.0,400.6 361.0,400.7 364.0,400.8 367.0,400.8 370.0,400.9 373.0,401.0 376.0,401.0 379.0,401.1 382.0,401.2 385.0,401.2 388.0,401.3 391.0,401.3 394.0,401.4 397.0,401.5 400.0,401.5 403.0,401.6 406.0,401.7 409.0,401.7 412.0,401.8 415.0,401.9 418.0,401.9 421.0,402.0 424.0,402.0 427.0,402.0 430.0,401.9 433.0,401.9 436.0,401.9 439.0,401.9 442.0,401.9 445.0,401.8 448.0,401.8 451.0,401.8 454.0,401.8 457.0,401.8 460.0,401.8 463.0,401.7 466.0,401.6 469.0,401.2 472.0,400.6 475.0,399.9 478.0,399.3 481.0,399.7 484.0,400.1 487.0,400.5 490.0,400.9 493.0,401.3 496.0,401.1 499.0,400.7 502.0,400.3 505.0,400.0 508.0,399.6 511.0,399.6 514.0,400.2 517.0,400.7 520.0,401.3 523.0,401.7 526.0,402.0 529.0,402.3 532.0,402.7 535.0,403.0 538.0,403.3 541.0,403.6 544.0,403.9 547.0,404.0 550.0,403.9 553.0,403.9 556.0,403.8 559.0,403.7 562.0,403.7 565.0,403.6 568.0,403.6 571.0,403.5 574.0,403.4 577.0,403.3 580.0,403.2 583.0,403.0 586.0,402.9 589.0,402.7 592.0,402.6 595.0,402.4 598.0,402.3 601.0,402.1 604.0,402.0 607.0,401.9 610.0,401.7 613.0,401.6 616.0,401.5 619.0,401.3 622.0,401.2 625.0,401.2 628.0,401.1 631.0,401.0 634.0,401.0 637.0,400.9 640.0,400.8 643.0,400.7 646.0,400.7 649.0,400.6 652.0,400.5 655.0,400.3 658.0,400.1 661.0,399.9 664.0,399.8 667.0,399.6 670.0,399.4 673.0,399.1 676.0,398.4 679.0,398.4 682.0,399.7 685.0,401.0 688.0,402.1 691.0,403.0 694.0,403.9 697.0,402.9 700.0,401.9 703.0,401.0 706.0,400.2 709.0,399.7 712.0,399.9 715.0,400.0 718.0,400.1 721.0,400.2 724.0,400.2 727.0,400.3 730.0,400.4 733.0,400.5 736.0,400.6 739.0,400.7 742.0,400.8 745.0,400.9 748.0,401.0 751.0,401.1 754.0,401.2 757.0,401.3 760.0,401.4 763.0,401.3 766.0,401.3 769.0,401.5 772.0,401.8 775.0,402.0 778.0,402.5 781.0,403.0 784.0,403.6 787.0,402.6 790.0,401.6 793.0,400.8 793.7,400.6 793.7,417.5 91.0,417.5" fill="#cfe3ef" />
<polygon points="91.0,404.6 94.0,402.0 97.0,400.1 100.0,399.5 103.0,398.9 106.0,398.5 109.0,398.6 112.0,398.6 115.0,398.7 118.0,398.7 121.0,398.8 124.0,398.8 127.0,398.9 130.0,398.9 133.0,399.0 136.0,399.1 139.0,399.1 142.0,399.2 145.0,399.2 148.0,399.3 151.0,399.3 154.0,399.4 157.0,399.4 160.0,399.4 163.0,399.5 166.0,399.5 169.0,399.5 172.0,399.6 175.0,399.6 178.0,399.7 181.0,399.7 184.0,399.7 187.0,399.8 190.0,399.8 193.0,399.8 196.0,399.9 199.0,399.9 202.0,400.0 205.0,400.0 208.0,400.0 211.0,400.1 214.0,400.1 217.0,400.2 220.0,400.2 223.0,400.2 226.0,400.3 229.0,400.3 232.0,400.3 235.0,400.4 238.0,400.4 241.0,400.5 244.0,400.5 247.0,400.5 250.0,400.6 253.0,400.5 256.0,400.3 259.0,400.2 262.0,400.1 265.0,399.8 268.0,399.6 271.0,399.4 274.0,399.1 277.0,398.7 280.0,398.8 283.0,399.9 286.0,401.0 289.0,402.0 292.0,403.0 295.0,402.7 298.0,401.9 301.0,401.1 304.0,400.6 307.0,400.0 310.0,399.5 313.0,399.7 316.0,400.4 319.0,401.0 322.0,401.3 325.0,401.5 328.0,401.8 331.0,401.9 334.0,402.0 337.0,402.1 340.0,402.2 343.0,402.2 346.0,402.3 349.0,402.4 352.0,402.5 355.0,402.5 358.0,402.6 361.0,402.7 364.0,402.8 367.0,402.8 370.0,402.9 373.0,403.0 376.0,403.1 379.0,403.1 382.0,403.2 385.0,403.3 388.0,403.4 391.0,403.4 394.0,403.5 397.0,403.6 400.0,403.7 403.0,403.8 406.0,403.8 409.0,403.9 412.0,404.0 415.0,404.1 418.0,404.2 421.0,404.2 424.0,404.2 427.0,404.1 430.0,404.1 433.0,404.1 436.0,404.1 439.0,404.0 442.0,404.0 445.0,404.0 448.0,403.9 451.0,403.9 454.0,403.9 457.0,403.9 460.0,403.8 463.0,403.8 466.0,403.7 469.0,403.3 472.0,402.6 475.0,401.8 478.0,401.1 481.0,401.4 484.0,401.7 487.0,402.0 490.0,402.4 493.0,402.7 496.0,402.6 499.0,402.2 502.0,401.8 505.0,401.6 508.0,401.4 511.0,401.4 514.0,402.0 517.0,402.7 520.0,403.3 523.0,403.7 526.0,404.2 529.0,404.5 532.0,404.9 535.0,405.2 538.0,405.6 541.0,405.9 544.0,406.3 547.0,406.4 550.0,406.3 553.0,406.2 556.0,406.1 559.0,406.1 562.0,406.0 565.0,405.9 568.0,405.8 571.0,405.8 574.0,405.6 577.0,405.5 580.0,405.4 583.0,405.2 586.0,405.0 589.0,404.9 592.0,404.7 595.0,404.5 598.0,404.3 601.0,404.1 604.0,404.0 607.0,403.8 610.0,403.7 613.0,403.5 616.0,403.4 619.0,403.2 622.0,403.1 625.0,403.0 628.0,402.9 631.0,402.9 634.0,402.8 637.0,402.7 640.0,402.6 643.0,402.5 646.0,402.5 649.0,402.4 652.0,402.2 655.0,402.1 658.0,401.9 661.0,401.7 664.0,401.5 667.0,401.3 670.0,401.1 673.0,400.8 676.0,400.0 679.0,400.0 682.0,401.2 685.0,402.5 688.0,403.5 691.0,404.4 694.0,405.3 697.0,404.3 700.0,403.4 703.0,402.5 706.0,401.8 709.0,401.4 712.0,401.6 715.0,401.7 718.0,401.8 721.0,401.9 724.0,402.0 727.0,402.1 730.0,402.2 733.0,402.3 736.0,402.4 739.0,402.5 742.0,402.6 745.0,402.7 748.0,402.8 751.0,402.9 754.0,403.0 757.0,403.1 760.0,403.3 763.0,403.1 766.0,403.1 769.0,403.3 772.0,403.5 775.0,403.7 778.0,404.1 781.0,404.6 784.0,405.1 787.0,404.1 790.0,403.1 793.0,402.3 793.7,402.1 793.7,417.5 91.0,417.5" fill="#e5eff5" />
<polygon points="91.0,405.5 94.0,402.9 97.0,401.0 100.0,400.4 103.0,399.9 106.0,399.5 109.0,399.6 112.0,399.6 115.0,399.7 118.0,399.8 121.0,399.8 124.0,399.9 127.0,400.0 130.0,400.0 133.0,400.1 136.0,400.2 139.0,400.2 142.0,400.3 145.0,400.4 148.0,400.5 151.0,400.5 154.0,400.6 157.0,400.6 160.0,400.6 163.0,400.7 166.0,400.7 169.0,400.8 172.0,400.8 175.0,400.9 178.0,400.9 181.0,400.9 184.0,401.0 187.0,401.0 190.0,401.1 193.0,401.1 196.0,401.1 199.0,401.2 202.0,401.2 205.0,401.3 208.0,401.3 211.0,401.4 214.0,401.4 217.0,401.4 220.0,401.5 223.0,401.5 226.0,401.6 229.0,401.6 232.0,401.7 235.0,401.7 238.0,401.7 241.0,401.8 244.0,401.8 247.0,401.9 250.0,401.9 253.0,401.8 256.0,401.7 259.0,401.6 262.0,401.4 265.0,401.2 268.0,400.9 271.0,400.7 274.0,400.4 277.0,400.0 280.0,400.1 283.0,401.1 286.0,402.2 289.0,403.2 292.0,404.2 295.0,403.9 298.0,403.1 301.0,402.4 304.0,401.9 307.0,401.4 310.0,400.9 313.0,401.2 316.0,401.8 319.0,402.5 322.0,402.9 325.0,403.1 328.0,403.4 331.0,403.6 334.0,403.7 337.0,403.8 340.0,403.8 343.0,403.9 346.0,404.0 349.0,404.1 352.0,404.2 355.0,404.3 358.0,404.4 361.0,404.4 364.0,404.5 367.0,404.6 370.0,404.7 373.0,404.8 376.0,404.9 379.0,405.0 382.0,405.0 385.0,405.1 388.0,405.2 391.0,405.3 394.0,405.4 397.0,405.5 400.0,405.6 403.0,405.6 406.0,405.7 409.0,405.8 412.0,405.9 415.0,406.0 418.0,406.1 421.0,406.1 424.0,406.1 427.0,406.1 430.0,406.0 433.0,406.0 436.0,406.0 439.0,405.9 442.0,405.9 445.0,405.8 448.0,405.8 451.0,405.8 454.0,405.7 457.0,405.7 460.0,405.7 463.0,405.6 466.0,405.5 469.0,405.1 472.0,404.4 475.0,403.5 478.0,402.7 481.0,402.9 484.0,403.2 487.0,403.4 490.0,403.7 493.0,403.9 496.0,403.8 499.0,403.5 502.0,403.2 505.0,403.1 508.0,402.9 511.0,403.0 514.0,403.7 517.0,404.4 520.0,405.1 523.0,405.6 526.0,406.0 529.0,406.4 532.0,406.8 535.0,407.2 538.0,407.6 541.0,408.0 544.0,408.4 547.0,408.4 550.0,408.4 553.0,408.3 556.0,408.2 559.0,408.1 562.0,408.0 565.0,407.9 568.0,407.8 571.0,407.7 574.0,407.6 577.0,407.5 580.0,407.3 583.0,407.1 586.0,406.9 589.0,406.7 592.0,406.5 595.0,406.3 598.0,406.1 601.0,405.9 604.0,405.8 607.0,405.6 610.0,405.4 613.0,405.2 616.0,405.0 619.0,404.9 622.0,404.7 625.0,404.7 628.0,404.6 631.0,404.5 634.0,404.4 637.0,404.3 640.0,404.2 643.0,404.1 646.0,404.0 649.0,404.0 652.0,403.8 655.0,403.6 658.0,403.4 661.0,403.2 664.0,403.0 667.0,402.8 670.0,402.6 673.0,402.2 676.0,401.5 679.0,401.4 682.0,402.6 685.0,403.8 688.0,404.8 691.0,405.6 694.0,406.5 697.0,405.6 700.0,404.7 703.0,403.9 706.0,403.2 709.0,402.9 712.0,403.1 715.0,403.2 718.0,403.3 721.0,403.4 724.0,403.5 727.0,403.6 730.0,403.7 733.0,403.9 736.0,404.0 739.0,404.1 742.0,404.2 745.0,404.3 748.0,404.4 751.0,404.5 754.0,404.7 757.0,404.8 760.0,404.9 763.0,404.7 766.0,404.6 769.0,404.8 772.0,405.0 775.0,405.1 778.0,405.5 781.0,406.0 784.0,406.5 787.0,405.5 790.0,404.5 793.0,403.7 793.7,403.5 793.7,417.5 91.0,417.5" fill="#f2f5f6" />
<polygon points="91.0,409.5 94.0,409.5 97.0,409.5 100.0,409.5 103.0,409.5 106.0,409.5 109.0,409.5 112.0,409.5 115.0,409.5 118.0,409.5 121.0,409.5 124.0,409.5 127.0,409.5 130.0,409.5 133.0,409.5 136.0,409.5 139.0,409.5 142.0,409.5 145.0,409.5 148.0,409.5 151.0,409.2 154.0,408.5 157.0,407.8 160.0,407.0 163.0,406.7 166.0,406.4 169.0,406.1 172.0,405.8 175.0,405.5 178.0,405.4 181.0,405.4 184.0,405.3 187.0,405.3 190.0,405.2 193.0,405.1 196.0,405.1 199.0,405.0 202.0,405.1 205.0,405.3 208.0,405.5 211.0,405.7 214.0,405.8 217.0,406.0 220.0,406.2 223.0,406.4 226.0,406.6 229.0,407.0 232.0,407.4 235.0,407.8 238.0,408.2 241.0,408.5 244.0,408.5 247.0,408.5 250.0,408.5 253.0,408.5 256.0,408.5 259.0,408.5 262.0,408.5 265.0,408.5 268.0,408.5 271.0,406.6 274.0,404.8 277.0,403.5 280.0,403.5 283.0,406.0 286.0,408.5 289.0,408.5 292.0,408.5 295.0,408.5 298.0,408.5 301.0,407.9 304.0,406.0 307.0,404.1 310.0,403.5 313.0,403.5 316.0,405.6 319.0,407.8 322.0,408.6 325.0,408.8 328.0,409.0 331.0,409.2 334.0,409.4 337.0,409.5 340.0,409.5 343.0,409.5 346.0,409.5 349.0,409.5 352.0,409.5 355.0,409.5 358.0,409.5 361.0,409.5 364.0,409.5 367.0,409.5 370.0,409.5 373.0,409.5 376.0,409.5 379.0,409.5 382.0,409.5 385.0,409.5 388.0,409.5 391.0,409.5 394.0,409.5 397.0,409.5 400.0,409.5 403.0,409.5 406.0,409.5 409.0,409.5 412.0,409.5 415.0,409.5 418.0,409.5 421.0,409.5 424.0,409.5 427.0,409.5 430.0,409.5 433.0,409.5 436.0,409.5 439.0,409.5 442.0,409.5 445.0,409.5 448.0,409.5 451.0,409.5 454.0,409.5 457.0,409.5 460.0,409.5 463.0,409.5 466.0,409.5 469.0,409.1 472.0,408.0 475.0,406.9 478.0,406.5 481.0,406.5 484.0,407.2 487.0,408.4 490.0,409.5 493.0,409.5 496.0,409.5 499.0,409.5 502.0,409.5 505.0,408.0 508.0,406.5 511.0,407.2 514.0,408.0 517.0,408.8 520.0,409.5 523.0,409.5 526.0,409.5 529.0,409.5 532.0,409.5 535.0,409.5 538.0,409.5 541.0,409.5 544.0,417.3 547.0,417.3 550.0,417.3 553.0,417.3 556.0,417.3 559.0,417.3 562.0,417.0 565.0,416.6 568.0,416.2 571.0,415.8 574.0,415.4 577.0,415.0 580.0,414.6 583.0,414.2 586.0,413.8 589.0,413.4 592.0,413.1 595.0,412.8 598.0,412.5 601.0,412.2 604.0,411.9 607.0,411.6 610.0,411.3 613.0,411.0 616.0,410.7 619.0,410.4 622.0,410.2 625.0,410.0 628.0,409.8 631.0,409.6 634.0,409.4 637.0,409.2 640.0,409.0 643.0,408.8 646.0,408.6 649.0,408.4 652.0,408.1 655.0,407.7 658.0,407.4 661.0,407.1 664.0,406.7 667.0,406.4 670.0,405.3 673.0,403.8 676.0,402.3 679.0,402.6 682.0,406.6 685.0,410.3 688.0,413.3 691.0,415.3 694.0,415.3 697.0,415.3 700.0,415.3 703.0,412.3 706.0,408.0 709.0,406.2 712.0,407.0 715.0,407.8 718.0,408.5 721.0,409.0 724.0,409.0 727.0,409.0 730.0,409.0 733.0,409.0 736.0,409.0 739.0,409.0 742.0,409.0 745.0,409.0 748.0,408.4 751.0,407.8 754.0,407.2 757.0,406.6 760.0,406.0 763.0,407.2 766.0,408.5 769.0,409.8 772.0,411.0 775.0,412.5 778.0,414.0 781.0,415.5 784.0,416.0 787.0,416.0 790.0,416.0 793.0,416.0 793.7,416.0 793.7,416.5 793.0,416.5 790.0,416.5 787.0,416.5 784.0,416.5 781.0,416.5 778.0,416.5 775.0,416.5 772.0,416.5 769.0,416.5 766.0,416.5 763.0,416.5 760.0,416.5 757.0,416.5 754.0,416.5 751.0,416.5 748.0,416.5 745.0,416.5 742.0,416.5 739.0,416.5 736.0,416.5 733.0,416.5 730.0,416.5 727.0,416.5 724.0,416.5 721.0,416.5 718.0,416.5 715.0,416.5 712.0,416.5 709.0,416.5 706.0,416.5 703.0,417.8 700.0,417.8 697.0,417.8 694.0,417.8 691.0,417.8 688.0,417.8 685.0,417.8 682.0,417.8 679.0,417.8 676.0,417.8 673.0,417.8 670.0,417.8 667.0,417.8 664.0,417.8 661.0,417.8 658.0,417.8 655.0,417.8 652.0,417.8 649.0,417.8 646.0,417.8 643.0,417.8 640.0,417.8 637.0,417.8 634.0,417.8 631.0,417.8 628.0,417.8 625.0,417.8 622.0,417.8 619.0,417.8 616.0,417.8 613.0,417.8 610.0,417.8 607.0,417.8 604.0,417.8 601.0,417.8 598.0,417.8 595.0,417.8 592.0,417.8 589.0,417.8 586.0,417.8 583.0,417.8 580.0,417.8 577.0,417.8 574.0,417.8 571.0,417.8 568.0,417.8 565.0,417.8 562.0,417.8 559.0,417.8 556.0,417.8 553.0,417.8 550.0,417.8 547.0,417.8 544.0,417.8 541.0,410.0 538.0,410.0 535.0,410.0 532.0,410.0 529.0,410.0 526.0,410.0 523.0,410.0 520.0,410.0 517.0,410.0 514.0,410.0 511.0,410.0 508.0,410.0 505.0,410.0 502.0,410.0 499.0,410.0 496.0,410.0 493.0,410.0 490.0,410.0 487.0,410.0 484.0,410.0 481.0,410.0 478.0,410.0 475.0,410.0 472.0,410.0 469.0,410.0 466.0,410.0 463.0,410.0 460.0,410.0 457.0,410.0 454.0,410.0 451.0,410.0 448.0,410.0 445.0,410.0 442.0,410.0 439.0,410.0 436.0,410.0 433.0,410.0 430.0,410.0 427.0,410.0 424.0,410.0 421.0,410.0 418.0,410.0 415.0,410.0 412.0,410.0 409.0,410.0 406.0,410.0 403.0,410.0 400.0,410.0 397.0,410.0 394.0,410.0 391.0,410.0 388.0,410.0 385.0,410.0 382.0,410.0 379.0,410.0 376.0,410.0 373.0,410.0 370.0,410.0 367.0,410.0 364.0,410.0 361.0,410.0 358.0,410.0 355.0,410.0 352.0,410.0 349.0,410.0 346.0,410.0 343.0,410.0 340.0,410.0 337.0,410.0 334.0,410.0 331.0,410.0 328.0,410.0 325.0,410.0 322.0,410.0 319.0,410.0 316.0,410.0 313.0,410.0 310.0,410.0 307.0,410.0 304.0,410.0 301.0,410.0 298.0,410.0 295.0,410.0 292.0,410.0 289.0,410.0 286.0,410.0 283.0,410.0 280.0,410.0 277.0,410.0 274.0,410.0 271.0,410.0 268.0,410.0 265.0,410.0 262.0,410.0 259.0,410.0 256.0,410.0 253.0,410.0 250.0,410.0 247.0,410.0 244.0,410.0 241.0,410.0 238.0,410.0 235.0,410.0 232.0,410.0 229.0,410.0 226.0,410.0 223.0,410.0 220.0,410.0 217.0,410.0 214.0,410.0 211.0,410.0 208.0,410.0 205.0,410.0 202.0,410.0 199.0,410.0 196.0,410.0 193.0,410.0 190.0,410.0 187.0,410.0 184.0,410.0 181.0,410.0 178.0,410.0 175.0,410.0 172.0,410.0 169.0,410.0 166.0,410.0 163.0,410.0 160.0,410.0 157.0,410.0 154.0,410.0 151.0,410.0 148.0,410.0 145.0,410.0 142.0,410.0 139.0,410.0 136.0,410.0 133.0,410.0 130.0,410.0 127.0,410.0 124.0,410.0 121.0,410.0 118.0,410.0 115.0,410.0 112.0,410.0 109.0,410.0 106.0,410.0 103.0,410.0 100.0,410.0 97.0,410.0 94.0,410.0 91.0,410.0" fill="#fbdac6" />
<polygon points="91.0,409.5 94.0,409.5 97.0,409.5 100.0,409.5 103.0,409.5 106.0,409.5 109.0,409.5 112.0,409.5 115.0,409.5 118.0,409.5 121.0,409.5 124.0,409.5 127.0,409.5 130.0,409.5 133.0,409.5 136.0,409.5 139.0,409.5 142.0,409.5 145.0,409.5 148.0,409.5 151.0,409.3 154.0,408.8 157.0,408.2 160.0,407.6 163.0,407.4 166.0,407.2 169.0,406.9 172.0,406.7 175.0,406.5 178.0,406.5 181.0,406.4 184.0,406.4 187.0,406.3 190.0,406.3 193.0,406.2 196.0,406.2 199.0,406.1 202.0,406.2 205.0,406.4 208.0,406.5 211.0,406.6 214.0,406.8 217.0,406.9 220.0,407.0 223.0,407.2 226.0,407.4 229.0,407.6 232.0,407.9 235.0,408.2 238.0,408.6 241.0,408.8 244.0,408.8 247.0,408.8 250.0,408.8 253.0,408.8 256.0,408.8 259.0,408.8 262.0,408.8 265.0,408.8 268.0,408.8 271.0,407.3 274.0,405.9 277.0,405.0 280.0,405.0 283.0,406.9 286.0,408.8 289.0,408.8 292.0,408.8 295.0,408.8 298.0,408.8 301.0,408.3 304.0,406.9 307.0,405.5 310.0,405.0 313.0,405.0 316.0,406.6 319.0,408.2 322.0,408.9 325.0,409.0 328.0,409.1 331.0,409.3 334.0,409.4 337.0,409.5 340.0,409.5 343.0,409.5 346.0,409.5 349.0,409.5 352.0,409.5 355.0,409.5 358.0,409.5 361.0,409.5 364.0,409.5 367.0,409.5 370.0,409.5 373.0,409.5 376.0,409.5 379.0,409.5 382.0,409.5 385.0,409.5 388.0,409.5 391.0,409.5 394.0,409.5 397.0,409.5 400.0,409.5 403.0,409.5 406.0,409.5 409.0,409.5 412.0,409.5 415.0,409.5 418.0,409.5 421.0,409.5 424.0,409.5 427.0,409.5 430.0,409.5 433.0,409.5 436.0,409.5 439.0,409.5 442.0,409.5 445.0,409.5 448.0,409.5 451.0,409.5 454.0,409.5 457.0,409.5 460.0,409.5 463.0,409.5 466.0,409.5 469.0,409.2 472.0,408.4 475.0,407.5 478.0,407.2 481.0,407.2 484.0,407.8 487.0,408.7 490.0,409.5 493.0,409.5 496.0,409.5 499.0,409.5 502.0,409.5 505.0,408.4 508.0,407.2 511.0,407.8 514.0,408.4 517.0,408.9 520.0,409.5 523.0,409.5 526.0,409.5 529.0,409.5 532.0,409.5 535.0,409.5 538.0,409.5 541.0,409.5 544.0,417.3 547.0,417.3 550.0,417.3 553.0,417.3 556.0,417.3 559.0,417.3 562.0,417.1 565.0,416.8 568.0,416.5 571.0,416.2 574.0,415.9 577.0,415.6 580.0,415.3 583.0,415.0 586.0,414.7 589.0,414.4 592.0,414.1 595.0,413.9 598.0,413.7 601.0,413.5 604.0,413.2 607.0,413.0 610.0,412.8 613.0,412.6 616.0,412.3 619.0,412.1 622.0,411.9 625.0,411.8 628.0,411.6 631.0,411.5 634.0,411.3 637.0,411.2 640.0,411.0 643.0,410.9 646.0,410.7 649.0,410.6 652.0,410.4 655.0,410.1 658.0,409.9 661.0,409.6 664.0,409.4 667.0,409.1 670.0,408.3 673.0,407.2 676.0,406.0 679.0,406.3 682.0,409.3 685.0,412.0 688.0,414.3 691.0,415.8 694.0,415.8 697.0,415.8 700.0,415.8 703.0,413.5 706.0,410.0 709.0,408.7 712.0,409.2 715.0,409.8 718.0,410.4 721.0,410.8 724.0,410.8 727.0,410.8 730.0,410.8 733.0,410.8 736.0,410.8 739.0,410.8 742.0,410.8 745.0,410.8 748.0,410.3 751.0,409.9 754.0,409.4 757.0,408.9 760.0,408.5 763.0,409.4 766.0,410.4 769.0,411.3 772.0,412.2 775.0,413.4 778.0,414.5 781.0,415.6 784.0,416.0 787.0,416.0 790.0,416.0 793.0,416.0 793.7,416.0 793.7,416.5 793.0,416.5 790.0,416.5 787.0,416.5 784.0,416.5 781.0,416.5 778.0,416.5 775.0,416.5 772.0,416.5 769.0,416.5 766.0,416.5 763.0,416.5 760.0,416.5 757.0,416.5 754.0,416.5 751.0,416.5 748.0,416.5 745.0,416.5 742.0,416.5 739.0,416.5 736.0,416.5 733.0,416.5 730.0,416.5 727.0,416.5 724.0,416.5 721.0,416.5 718.0,416.5 715.0,416.5 712.0,416.5 709.0,416.5 706.0,416.5 703.0,417.8 700.0,417.8 697.0,417.8 694.0,417.8 691.0,417.8 688.0,417.8 685.0,417.8 682.0,417.8 679.0,417.8 676.0,417.8 673.0,417.8 670.0,417.8 667.0,417.8 664.0,417.8 661.0,417.8 658.0,417.8 655.0,417.8 652.0,417.8 649.0,417.8 646.0,417.8 643.0,417.8 640.0,417.8 637.0,417.8 634.0,417.8 631.0,417.8 628.0,417.8 625.0,417.8 622.0,417.8 619.0,417.8 616.0,417.8 613.0,417.8 610.0,417.8 607.0,417.8 604.0,417.8 601.0,417.8 598.0,417.8 595.0,417.8 592.0,417.8 589.0,417.8 586.0,417.8 583.0,417.8 580.0,417.8 577.0,417.8 574.0,417.8 571.0,417.8 568.0,417.8 565.0,417.8 562.0,417.8 559.0,417.8 556.0,417.8 553.0,417.8 550.0,417.8 547.0,417.8 544.0,417.8 541.0,410.0 538.0,410.0 535.0,410.0 532.0,410.0 529.0,410.0 526.0,410.0 523.0,410.0 520.0,410.0 517.0,410.0 514.0,410.0 511.0,410.0 508.0,410.0 505.0,410.0 502.0,410.0 499.0,410.0 496.0,410.0 493.0,410.0 490.0,410.0 487.0,410.0 484.0,410.0 481.0,410.0 478.0,410.0 475.0,410.0 472.0,410.0 469.0,410.0 466.0,410.0 463.0,410.0 460.0,410.0 457.0,410.0 454.0,410.0 451.0,410.0 448.0,410.0 445.0,410.0 442.0,410.0 439.0,410.0 436.0,410.0 433.0,410.0 430.0,410.0 427.0,410.0 424.0,410.0 421.0,410.0 418.0,410.0 415.0,410.0 412.0,410.0 409.0,410.0 406.0,410.0 403.0,410.0 400.0,410.0 397.0,410.0 394.0,410.0 391.0,410.0 388.0,410.0 385.0,410.0 382.0,410.0 379.0,410.0 376.0,410.0 373.0,410.0 370.0,410.0 367.0,410.0 364.0,410.0 361.0,410.0 358.0,410.0 355.0,410.0 352.0,410.0 349.0,410.0 346.0,410.0 343.0,410.0 340.0,410.0 337.0,410.0 334.0,410.0 331.0,410.0 328.0,410.0 325.0,410.0 322.0,410.0 319.0,410.0 316.0,410.0 313.0,410.0 310.0,410.0 307.0,410.0 304.0,410.0 301.0,410.0 298.0,410.0 295.0,410.0 292.0,410.0 289.0,410.0 286.0,410.0 283.0,410.0 280.0,410.0 277.0,410.0 274.0,410.0 271.0,410.0 268.0,410.0 265.0,410.0 262.0,410.0 259.0,410.0 256.0,410.0 253.0,410.0 250.0,410.0 247.0,410.0 244.0,410.0 241.0,410.0 238.0,410.0 235.0,410.0 232.0,410.0 229.0,410.0 226.0,410.0 223.0,410.0 220.0,410.0 217.0,410.0 214.0,410.0 211.0,410.0 208.0,410.0 205.0,410.0 202.0,410.0 199.0,410.0 196.0,410.0 193.0,410.0 190.0,410.0 187.0,410.0 184.0,410.0 181.0,410.0 178.0,410.0 175.0,410.0 172.0,410.0 169.0,410.0 166.0,410.0 163.0,410.0 160.0,410.0 157.0,410.0 154.0,410.0 151.0,410.0 148.0,410.0 145.0,410.0 142.0,410.0 139.0,410.0 136.0,410.0 133.0,410.0 130.0,410.0 127.0,410.0 124.0,410.0 121.0,410.0 118.0,410.0 115.0,410.0 112.0,410.0 109.0,410.0 106.0,410.0 103.0,410.0 100.0,410.0 97.0,410.0 94.0,410.0 91.0,410.0" fill="#f6b99c" />
<polygon points="91.0,409.5 94.0,409.5 97.0,409.5 100.0,409.5 103.0,409.5 106.0,409.5 109.0,409.5 112.0,409.5 115.0,409.5 118.0,409.5 121.0,409.5 124.0,409.5 127.0,409.5 130.0,409.5 133.0,409.5 136.0,409.5 139.0,409.5 142.0,409.5 145.0,409.5 148.0,409.5 151.0,409.4 154.0,409.0 157.0,408.6 160.0,408.2 163.0,408.0 166.0,407.9 169.0,407.7 172.0,407.6 175.0,407.4 178.0,407.4 181.0,407.4 184.0,407.3 187.0,407.3 190.0,407.3 193.0,407.2 196.0,407.2 199.0,407.2 202.0,407.2 205.0,407.3 208.0,407.4 211.0,407.5 214.0,407.6 217.0,407.7 220.0,407.8 223.0,407.9 226.0,408.0 229.0,408.2 232.0,408.4 235.0,408.6 238.0,408.8 241.0,409.0 244.0,409.0 247.0,409.0 250.0,409.0 253.0,409.0 256.0,409.0 259.0,409.0 262.0,409.0 265.0,409.0 268.0,409.0 271.0,408.0 274.0,407.0 277.0,406.4 280.0,406.4 283.0,407.7 286.0,409.0 289.0,409.0 292.0,409.0 295.0,409.0 298.0,409.0 301.0,408.7 304.0,407.7 307.0,406.7 310.0,406.4 313.0,406.4 316.0,407.5 319.0,408.6 322.0,409.0 325.0,409.2 328.0,409.3 331.0,409.4 334.0,409.5 337.0,409.5 340.0,409.5 343.0,409.5 346.0,409.5 349.0,409.5 352.0,409.5 355.0,409.5 358.0,409.5 361.0,409.5 364.0,409.5 367.0,409.5 370.0,409.5 373.0,409.5 376.0,409.5 379.0,409.5 382.0,409.5 385.0,409.5 388.0,409.5 391.0,409.5 394.0,409.5 397.0,409.5 400.0,409.5 403.0,409.5 406.0,409.5 409.0,409.5 412.0,409.5 415.0,409.5 418.0,409.5 421.0,409.5 424.0,409.5 427.0,409.5 430.0,409.5 433.0,409.5 436.0,409.5 439.0,409.5 442.0,409.5 445.0,409.5 448.0,409.5 451.0,409.5 454.0,409.5 457.0,409.5 460.0,409.5 463.0,409.5 466.0,409.5 469.0,409.3 472.0,408.7 475.0,408.1 478.0,407.9 481.0,407.9 484.0,408.3 487.0,408.9 490.0,409.5 493.0,409.5 496.0,409.5 499.0,409.5 502.0,409.5 505.0,408.7 508.0,407.9 511.0,408.3 514.0,408.7 517.0,409.1 520.0,409.5 523.0,409.5 526.0,409.5 529.0,409.5 532.0,409.5 535.0,409.5 538.0,409.5 541.0,409.5 544.0,417.3 547.0,417.3 550.0,417.3 553.0,417.3 556.0,417.3 559.0,417.3 562.0,417.2 565.0,417.0 568.0,416.7 571.0,416.5 574.0,416.3 577.0,416.1 580.0,415.9 583.0,415.7 586.0,415.5 589.0,415.3 592.0,415.1 595.0,415.0 598.0,414.8 601.0,414.6 604.0,414.5 607.0,414.3 610.0,414.2 613.0,414.0 616.0,413.9 619.0,413.7 622.0,413.6 625.0,413.5 628.0,413.4 631.0,413.3 634.0,413.2 637.0,413.1 640.0,413.0 643.0,412.9 646.0,412.8 649.0,412.7 652.0,412.5 655.0,412.3 658.0,412.2 661.0,412.0 664.0,411.8 667.0,411.6 670.0,411.1 673.0,410.3 676.0,409.5 679.0,409.7 682.0,411.8 685.0,413.7 688.0,415.2 691.0,416.3 694.0,416.3 697.0,416.3 700.0,416.3 703.0,414.7 706.0,411.8 709.0,410.9 712.0,411.3 715.0,411.7 718.0,412.1 721.0,412.4 724.0,412.4 727.0,412.4 730.0,412.4 733.0,412.4 736.0,412.4 739.0,412.4 742.0,412.4 745.0,412.4 748.0,412.0 751.0,411.7 754.0,411.4 757.0,411.1 760.0,410.8 763.0,411.4 766.0,412.1 769.0,412.8 772.0,413.4 775.0,414.2 778.0,415.0 781.0,415.7 784.0,416.0 787.0,416.0 790.0,416.0 793.0,416.0 793.7,416.0 793.7,416.5 793.0,416.5 790.0,416.5 787.0,416.5 784.0,416.5 781.0,416.5 778.0,416.5 775.0,416.5 772.0,416.5 769.0,416.5 766.0,416.5 763.0,416.5 760.0,416.5 757.0,416.5 754.0,416.5 751.0,416.5 748.0,416.5 745.0,416.5 742.0,416.5 739.0,416.5 736.0,416.5 733.0,416.5 730.0,416.5 727.0,416.5 724.0,416.5 721.0,416.5 718.0,416.5 715.0,416.5 712.0,416.5 709.0,416.5 706.0,416.5 703.0,417.8 700.0,417.8 697.0,417.8 694.0,417.8 691.0,417.8 688.0,417.8 685.0,417.8 682.0,417.8 679.0,417.8 676.0,417.8 673.0,417.8 670.0,417.8 667.0,417.8 664.0,417.8 661.0,417.8 658.0,417.8 655.0,417.8 652.0,417.8 649.0,417.8 646.0,417.8 643.0,417.8 640.0,417.8 637.0,417.8 634.0,417.8 631.0,417.8 628.0,417.8 625.0,417.8 622.0,417.8 619.0,417.8 616.0,417.8 613.0,417.8 610.0,417.8 607.0,417.8 604.0,417.8 601.0,417.8 598.0,417.8 595.0,417.8 592.0,417.8 589.0,417.8 586.0,417.8 583.0,417.8 580.0,417.8 577.0,417.8 574.0,417.8 571.0,417.8 568.0,417.8 565.0,417.8 562.0,417.8 559.0,417.8 556.0,417.8 553.0,417.8 550.0,417.8 547.0,417.8 544.0,417.8 541.0,410.0 538.0,410.0 535.0,410.0 532.0,410.0 529.0,410.0 526.0,410.0 523.0,410.0 520.0,410.0 517.0,410.0 514.0,410.0 511.0,410.0 508.0,410.0 505.0,410.0 502.0,410.0 499.0,410.0 496.0,410.0 493.0,410.0 490.0,410.0 487.0,410.0 484.0,410.0 481.0,410.0 478.0,410.0 475.0,410.0 472.0,410.0 469.0,410.0 466.0,410.0 463.0,410.0 460.0,410.0 457.0,410.0 454.0,410.0 451.0,410.0 448.0,410.0 445.0,410.0 442.0,410.0 439.0,410.0 436.0,410.0 433.0,410.0 430.0,410.0 427.0,410.0 424.0,410.0 421.0,410.0 418.0,410.0 415.0,410.0 412.0,410.0 409.0,410.0 406.0,410.0 403.0,410.0 400.0,410.0 397.0,410.0 394.0,410.0 391.0,410.0 388.0,410.0 385.0,410.0 382.0,410.0 379.0,410.0 376.0,410.0 373.0,410.0 370.0,410.0 367.0,410.0 364.0,410.0 361.0,410.0 358.0,410.0 355.0,410.0 352.0,410.0 349.0,410.0 346.0,410.0 343.0,410.0 340.0,410.0 337.0,410.0 334.0,410.0 331.0,410.0 328.0,410.0 325.0,410.0 322.0,410.0 319.0,410.0 316.0,410.0 313.0,410.0 310.0,410.0 307.0,410.0 304.0,410.0 301.0,410.0 298.0,410.0 295.0,410.0 292.0,410.0 289.0,410.0 286.0,410.0 283.0,410.0 280.0,410.0 277.0,410.0 274.0,410.0 271.0,410.0 268.0,410.0 265.0,410.0 262.0,410.0 259.0,410.0 256.0,410.0 253.0,410.0 250.0,410.0 247.0,410.0 244.0,410.0 241.0,410.0 238.0,410.0 235.0,410.0 232.0,410.0 229.0,410.0 226.0,410.0 223.0,410.0 220.0,410.0 217.0,410.0 214.0,410.0 211.0,410.0 208.0,410.0 205.0,410.0 202.0,410.0 199.0,410.0 196.0,410.0 193.0,410.0 190.0,410.0 187.0,410.0 184.0,410.0 181.0,410.0 178.0,410.0 175.0,410.0 172.0,410.0 169.0,410.0 166.0,410.0 163.0,410.0 160.0,410.0 157.0,410.0 154.0,410.0 151.0,410.0 148.0,410.0 145.0,410.0 142.0,410.0 139.0,410.0 136.0,410.0 133.0,410.0 130.0,410.0 127.0,410.0 124.0,410.0 121.0,410.0 118.0,410.0 115.0,410.0 112.0,410.0 109.0,410.0 106.0,410.0 103.0,410.0 100.0,410.0 97.0,410.0 94.0,410.0 91.0,410.0" fill="#ee9270" />
<polygon points="91.0,409.5 94.0,409.5 97.0,409.5 100.0,409.5 103.0,409.5 106.0,409.5 109.0,409.5 112.0,409.5 115.0,409.5 118.0,409.5 121.0,409.5 124.0,409.5 127.0,409.5 130.0,409.5 133.0,409.5 136.0,409.5 139.0,409.5 142.0,409.5 145.0,409.5 148.0,409.5 151.0,409.4 154.0,409.2 157.0,409.0 160.0,408.8 163.0,408.7 166.0,408.6 169.0,408.5 172.0,408.4 175.0,408.3 178.0,408.3 181.0,408.3 184.0,408.2 187.0,408.2 190.0,408.2 193.0,408.2 196.0,408.2 199.0,408.2 202.0,408.2 205.0,408.2 208.0,408.3 211.0,408.3 214.0,408.4 217.0,408.5 220.0,408.5 223.0,408.6 226.0,408.6 229.0,408.8 232.0,408.9 235.0,409.0 238.0,409.1 241.0,409.2 244.0,409.2 247.0,409.2 250.0,409.2 253.0,409.2 256.0,409.2 259.0,409.2 262.0,409.2 265.0,409.2 268.0,409.2 271.0,408.6 274.0,408.1 277.0,407.7 280.0,407.7 283.0,408.4 286.0,409.2 289.0,409.2 292.0,409.2 295.0,409.2 298.0,409.2 301.0,409.0 304.0,408.4 307.0,407.9 310.0,407.7 313.0,407.7 316.0,408.3 319.0,409.0 322.0,409.2 325.0,409.3 328.0,409.4 331.0,409.4 334.0,409.5 337.0,409.5 340.0,409.5 343.0,409.5 346.0,409.5 349.0,409.5 352.0,409.5 355.0,409.5 358.0,409.5 361.0,409.5 364.0,409.5 367.0,409.5 370.0,409.5 373.0,409.5 376.0,409.5 379.0,409.5 382.0,409.5 385.0,409.5 388.0,409.5 391.0,409.5 394.0,409.5 397.0,409.5 400.0,409.5 403.0,409.5 406.0,409.5 409.0,409.5 412.0,409.5 415.0,409.5 418.0,409.5 421.0,409.5 424.0,409.5 427.0,409.5 430.0,409.5 433.0,409.5 436.0,409.5 439.0,409.5 442.0,409.5 445.0,409.5 448.0,409.5 451.0,409.5 454.0,409.5 457.0,409.5 460.0,409.5 463.0,409.5 466.0,409.5 469.0,409.4 472.0,409.1 475.0,408.7 478.0,408.6 481.0,408.6 484.0,408.8 487.0,409.2 490.0,409.5 493.0,409.5 496.0,409.5 499.0,409.5 502.0,409.5 505.0,409.1 508.0,408.6 511.0,408.8 514.0,409.1 517.0,409.3 520.0,409.5 523.0,409.5 526.0,409.5 529.0,409.5 532.0,409.5 535.0,409.5 538.0,409.5 541.0,409.5 544.0,417.3 547.0,417.3 550.0,417.3 553.0,417.3 556.0,417.3 559.0,417.3 562.0,417.2 565.0,417.1 568.0,417.0 571.0,416.9 574.0,416.7 577.0,416.6 580.0,416.5 583.0,416.4 586.0,416.3 589.0,416.1 592.0,416.0 595.0,415.9 598.0,415.9 601.0,415.8 604.0,415.7 607.0,415.6 610.0,415.5 613.0,415.4 616.0,415.3 619.0,415.2 622.0,415.2 625.0,415.1 628.0,415.0 631.0,415.0 634.0,414.9 637.0,414.9 640.0,414.8 643.0,414.7 646.0,414.7 649.0,414.6 652.0,414.5 655.0,414.4 658.0,414.3 661.0,414.2 664.0,414.1 667.0,414.0 670.0,413.7 673.0,413.2 676.0,412.8 679.0,412.9 682.0,414.1 685.0,415.2 688.0,416.1 691.0,416.7 694.0,416.7 697.0,416.7 700.0,416.7 703.0,415.8 706.0,413.6 709.0,413.1 712.0,413.3 715.0,413.5 718.0,413.8 721.0,413.9 724.0,413.9 727.0,413.9 730.0,413.9 733.0,413.9 736.0,413.9 739.0,413.9 742.0,413.9 745.0,413.9 748.0,413.7 751.0,413.5 754.0,413.4 757.0,413.2 760.0,413.0 763.0,413.4 766.0,413.8 769.0,414.1 772.0,414.5 775.0,414.9 778.0,415.4 781.0,415.9 784.0,416.0 787.0,416.0 790.0,416.0 793.0,416.0 793.7,416.0 793.7,416.5 793.0,416.5 790.0,416.5 787.0,416.5 784.0,416.5 781.0,416.5 778.0,416.5 775.0,416.5 772.0,416.5 769.0,416.5 766.0,416.5 763.0,416.5 760.0,416.5 757.0,416.5 754.0,416.5 751.0,416.5 748.0,416.5 745.0,416.5 742.0,416.5 739.0,416.5 736.0,416.5 733.0,416.5 730.0,416.5 727.0,416.5 724.0,416.5 721.0,416.5 718.0,416.5 715.0,416.5 712.0,416.5 709.0,416.5 706.0,416.5 703.0,417.8 700.0,417.8 697.0,417.8 694.0,417.8 691.0,417.8 688.0,417.8 685.0,417.8 682.0,417.8 679.0,417.8 676.0,417.8 673.0,417.8 670.0,417.8 667.0,417.8 664.0,417.8 661.0,417.8 658.0,417.8 655.0,417.8 652.0,417.8 649.0,417.8 646.0,417.8 643.0,417.8 640.0,417.8 637.0,417.8 634.0,417.8 631.0,417.8 628.0,417.8 625.0,417.8 622.0,417.8 619.0,417.8 616.0,417.8 613.0,417.8 610.0,417.8 607.0,417.8 604.0,417.8 601.0,417.8 598.0,417.8 595.0,417.8 592.0,417.8 589.0,417.8 586.0,417.8 583.0,417.8 580.0,417.8 577.0,417.8 574.0,417.8 571.0,417.8 568.0,417.8 565.0,417.8 562.0,417.8 559.0,417.8 556.0,417.8 553.0,417.8 550.0,417.8 547.0,417.8 544.0,417.8 541.0,410.0 538.0,410.0 535.0,410.0 532.0,410.0 529.0,410.0 526.0,410.0 523.0,410.0 520.0,410.0 517.0,410.0 514.0,410.0 511.0,410.0 508.0,410.0 505.0,410.0 502.0,410.0 499.0,410.0 496.0,410.0 493.0,410.0 490.0,410.0 487.0,410.0 484.0,410.0 481.0,410.0 478.0,410.0 475.0,410.0 472.0,410.0 469.0,410.0 466.0,410.0 463.0,410.0 460.0,410.0 457.0,410.0 454.0,410.0 451.0,410.0 448.0,410.0 445.0,410.0 442.0,410.0 439.0,410.0 436.0,410.0 433.0,410.0 430.0,410.0 427.0,410.0 424.0,410.0 421.0,410.0 418.0,410.0 415.0,410.0 412.0,410.0 409.0,410.0 406.0,410.0 403.0,410.0 400.0,410.0 397.0,410.0 394.0,410.0 391.0,410.0 388.0,410.0 385.0,410.0 382.0,410.0 379.0,410.0 376.0,410.0 373.0,410.0 370.0,410.0 367.0,410.0 364.0,410.0 361.0,410.0 358.0,410.0 355.0,410.0 352.0,410.0 349.0,410.0 346.0,410.0 343.0,410.0 340.0,410.0 337.0,410.0 334.0,410.0 331.0,410.0 328.0,410.0 325.0,410.0 322.0,410.0 319.0,410.0 316.0,410.0 313.0,410.0 310.0,410.0 307.0,410.0 304.0,410.0 301.0,410.0 298.0,410.0 295.0,410.0 292.0,410.0 289.0,410.0 286.0,410.0 283.0,410.0 280.0,410.0 277.0,410.0 274.0,410.0 271.0,410.0 268.0,410.0 265.0,410.0 262.0,410.0 259.0,410.0 256.0,410.0 253.0,410.0 250.0,410.0 247.0,410.0 244.0,410.0 241.0,410.0 238.0,410.0 235.0,410.0 232.0,410.0 229.0,410.0 226.0,410.0 223.0,410.0 220.0,410.0 217.0,410.0 214.0,410.0 211.0,410.0 208.0,410.0 205.0,410.0 202.0,410.0 199.0,410.0 196.0,410.0 193.0,410.0 190.0,410.0 187.0,410.0 184.0,410.0 181.0,410.0 178.0,410.0 175.0,410.0 172.0,410.0 169.0,410.0 166.0,410.0 163.0,410.0 160.0,410.0 157.0,410.0 154.0,410.0 151.0,410.0 148.0,410.0 145.0,410.0 142.0,410.0 139.0,410.0 136.0,410.0 133.0,410.0 130.0,410.0 127.0,410.0 124.0,410.0 121.0,410.0 118.0,410.0 115.0,410.0 112.0,410.0 109.0,410.0 106.0,410.0 103.0,410.0 100.0,410.0 97.0,410.0 94.0,410.0 91.0,410.0" fill="#d9604b" />
<polygon points="91.0,409.5 94.0,409.5 97.0,409.5 100.0,409.5 103.0,409.5 106.0,409.5 109.0,409.5 112.0,409.5 115.0,409.5 118.0,409.5 121.0,409.5 124.0,409.5 127.0,409.5 130.0,409.5 133.0,409.5 136.0,409.5 139.0,409.5 142.0,409.5 145.0,409.5 148.0,409.5 151.0,409.5 154.0,409.4 157.0,409.3 160.0,409.2 163.0,409.2 166.0,409.1 169.0,409.1 172.0,409.1 175.0,409.0 178.0,409.0 181.0,409.0 184.0,409.0 187.0,409.0 190.0,409.0 193.0,409.0 196.0,409.0 199.0,409.0 202.0,409.0 205.0,409.0 208.0,409.0 211.0,409.0 214.0,409.1 217.0,409.1 220.0,409.1 223.0,409.1 226.0,409.2 229.0,409.2 232.0,409.3 235.0,409.3 238.0,409.3 241.0,409.4 244.0,409.4 247.0,409.4 250.0,409.4 253.0,409.4 256.0,409.4 259.0,409.4 262.0,409.4 265.0,409.4 268.0,409.4 271.0,409.2 274.0,408.9 277.0,408.8 280.0,408.8 283.0,409.1 286.0,409.4 289.0,409.4 292.0,409.4 295.0,409.4 298.0,409.4 301.0,409.3 304.0,409.1 307.0,408.9 310.0,408.8 313.0,408.8 316.0,409.0 319.0,409.3 322.0,409.4 325.0,409.4 328.0,409.4 331.0,409.5 334.0,409.5 337.0,409.5 340.0,409.5 343.0,409.5 346.0,409.5 349.0,409.5 352.0,409.5 355.0,409.5 358.0,409.5 361.0,409.5 364.0,409.5 367.0,409.5 370.0,409.5 373.0,409.5 376.0,409.5 379.0,409.5 382.0,409.5 385.0,409.5 388.0,409.5 391.0,409.5 394.0,409.5 397.0,409.5 400.0,409.5 403.0,409.5 406.0,409.5 409.0,409.5 412.0,409.5 415.0,409.5 418.0,409.5 421.0,409.5 424.0,409.5 427.0,409.5 430.0,409.5 433.0,409.5 436.0,409.5 439.0,409.5 442.0,409.5 445.0,409.5 448.0,409.5 451.0,409.5 454.0,409.5 457.0,409.5 460.0,409.5 463.0,409.5 466.0,409.5 469.0,409.5 472.0,409.3 475.0,409.2 478.0,409.1 481.0,409.1 484.0,409.2 487.0,409.4 490.0,409.5 493.0,409.5 496.0,409.5 499.0,409.5 502.0,409.5 505.0,409.3 508.0,409.1 511.0,409.2 514.0,409.3 517.0,409.4 520.0,409.5 523.0,409.5 526.0,409.5 529.0,409.5 532.0,409.5 535.0,409.5 538.0,409.5 541.0,409.5 544.0,417.3 547.0,417.3 550.0,417.3 553.0,417.3 556.0,417.3 559.0,417.3 562.0,417.3 565.0,417.2 568.0,417.2 571.0,417.1 574.0,417.1 577.0,417.0 580.0,417.0 583.0,416.9 586.0,416.9 589.0,416.8 592.0,416.8 595.0,416.8 598.0,416.7 601.0,416.7 604.0,416.7 607.0,416.6 610.0,416.6 613.0,416.5 616.0,416.5 619.0,416.5 622.0,416.4 625.0,416.4 628.0,416.4 631.0,416.4 634.0,416.3 637.0,416.3 640.0,416.3 643.0,416.3 646.0,416.3 649.0,416.2 652.0,416.2 655.0,416.2 658.0,416.1 661.0,416.1 664.0,416.0 667.0,416.0 670.0,415.9 673.0,415.7 676.0,415.5 679.0,415.5 682.0,416.0 685.0,416.5 688.0,416.8 691.0,417.1 694.0,417.1 697.0,417.1 700.0,417.1 703.0,416.7 706.0,415.0 709.0,414.8 712.0,414.9 715.0,415.0 718.0,415.1 721.0,415.2 724.0,415.2 727.0,415.2 730.0,415.2 733.0,415.2 736.0,415.2 739.0,415.2 742.0,415.2 745.0,415.2 748.0,415.1 751.0,415.0 754.0,414.9 757.0,414.9 760.0,414.8 763.0,414.9 766.0,415.1 769.0,415.2 772.0,415.4 775.0,415.6 778.0,415.8 781.0,415.9 784.0,416.0 787.0,416.0 790.0,416.0 793.0,416.0 793.7,416.0 793.7,416.5 793.0,416.5 790.0,416.5 787.0,416.5 784.0,416.5 781.0,416.5 778.0,416.5 775.0,416.5 772.0,416.5 769.0,416.5 766.0,416.5 763.0,416.5 760.0,416.5 757.0,416.5 754.0,416.5 751.0,416.5 748.0,416.5 745.0,416.5 742.0,416.5 739.0,416.5 736.0,416.5 733.0,416.5 730.0,416.5 727.0,416.5 724.0,416.5 721.0,416.5 718.0,416.5 715.0,416.5 712.0,416.5 709.0,416.5 706.0,416.5 703.0,417.8 700.0,417.8 697.0,417.8 694.0,417.8 691.0,417.8 688.0,417.8 685.0,417.8 682.0,417.8 679.0,417.8 676.0,417.8 673.0,417.8 670.0,417.8 667.0,417.8 664.0,417.8 661.0,417.8 658.0,417.8 655.0,417.8 652.0,417.8 649.0,417.8 646.0,417.8 643.0,417.8 640.0,417.8 637.0,417.8 634.0,417.8 631.0,417.8 628.0,417.8 625.0,417.8 622.0,417.8 619.0,417.8 616.0,417.8 613.0,417.8 610.0,417.8 607.0,417.8 604.0,417.8 601.0,417.8 598.0,417.8 595.0,417.8 592.0,417.8 589.0,417.8 586.0,417.8 583.0,417.8 580.0,417.8 577.0,417.8 574.0,417.8 571.0,417.8 568.0,417.8 565.0,417.8 562.0,417.8 559.0,417.8 556.0,417.8 553.0,417.8 550.0,417.8 547.0,417.8 544.0,417.8 541.0,410.0 538.0,410.0 535.0,410.0 532.0,410.0 529.0,410.0 526.0,410.0 523.0,410.0 520.0,410.0 517.0,410.0 514.0,410.0 511.0,410.0 508.0,410.0 505.0,410.0 502.0,410.0 499.0,410.0 496.0,410.0 493.0,410.0 490.0,410.0 487.0,410.0 484.0,410.0 481.0,410.0 478.0,410.0 475.0,410.0 472.0,410.0 469.0,410.0 466.0,410.0 463.0,410.0 460.0,410.0 457.0,410.0 454.0,410.0 451.0,410.0 448.0,410.0 445.0,410.0 442.0,410.0 439.0,410.0 436.0,410.0 433.0,410.0 430.0,410.0 427.0,410.0 424.0,410.0 421.0,410.0 418.0,410.0 415.0,410.0 412.0,410.0 409.0,410.0 406.0,410.0 403.0,410.0 400.0,410.0 397.0,410.0 394.0,410.0 391.0,410.0 388.0,410.0 385.0,410.0 382.0,410.0 379.0,410.0 376.0,410.0 373.0,410.0 370.0,410.0 367.0,410.0 364.0,410.0 361.0,410.0 358.0,410.0 355.0,410.0 352.0,410.0 349.0,410.0 346.0,410.0 343.0,410.0 340.0,410.0 337.0,410.0 334.0,410.0 331.0,410.0 328.0,410.0 325.0,410.0 322.0,410.0 319.0,410.0 316.0,410.0 313.0,410.0 310.0,410.0 307.0,410.0 304.0,410.0 301.0,410.0 298.0,410.0 295.0,410.0 292.0,410.0 289.0,410.0 286.0,410.0 283.0,410.0 280.0,410.0 277.0,410.0 274.0,410.0 271.0,410.0 268.0,410.0 265.0,410.0 262.0,410.0 259.0,410.0 256.0,410.0 253.0,410.0 250.0,410.0 247.0,410.0 244.0,410.0 241.0,410.0 238.0,410.0 235.0,410.0 232.0,410.0 229.0,410.0 226.0,410.0 223.0,410.0 220.0,410.0 217.0,410.0 214.0,410.0 211.0,410.0 208.0,410.0 205.0,410.0 202.0,410.0 199.0,410.0 196.0,410.0 193.0,410.0 190.0,410.0 187.0,410.0 184.0,410.0 181.0,410.0 178.0,410.0 175.0,410.0 172.0,410.0 169.0,410.0 166.0,410.0 163.0,410.0 160.0,410.0 157.0,410.0 154.0,410.0 151.0,410.0 148.0,410.0 145.0,410.0 142.0,410.0 139.0,410.0 136.0,410.0 133.0,410.0 130.0,410.0 127.0,410.0 124.0,410.0 121.0,410.0 118.0,410.0 115.0,410.0 112.0,410.0 109.0,410.0 106.0,410.0 103.0,410.0 100.0,410.0 97.0,410.0 94.0,410.0 91.0,410.0" fill="#c5403c" />
</g></g>
<g filter="url(#soft)">
<rect x="91" y="410.1" width="19.4" height="7.4" fill="#e4eef5"/>
<rect x="110" y="410.1" width="9.4" height="7.4" fill="#f7c9ae"/>
<rect x="119" y="410.1" width="22.4" height="7.4" fill="#fbe1d3"/>
<rect x="141" y="410.1" width="12.4" height="7.4" fill="#f9cdb5"/>
<rect x="153" y="410.1" width="10.9" height="7.4" fill="#f5b899"/>
<rect x="163.5" y="410.1" width="11.9" height="7.4" fill="#f0a07e"/>
<rect x="175" y="410.1" width="32.4" height="7.4" fill="#e06b53"/>
<rect x="207" y="410.1" width="12.4" height="7.4" fill="#f09a78"/>
<rect x="219" y="410.1" width="9.4" height="7.4" fill="#f5b89a"/>
<rect x="228" y="410.1" width="34.4" height="7.4" fill="#fbe3d5"/>
<rect x="262" y="410.1" width="8.4" height="7.4" fill="#f9d0bb"/>
<rect x="270" y="410.1" width="6.4" height="7.4" fill="#f2a486"/>
<rect x="276" y="410.1" width="4.4" height="7.4" fill="#e07058"/>
<rect x="280" y="410.1" width="6.4" height="7.4" fill="#f5c0a5"/>
<rect x="286" y="410.1" width="20.4" height="7.4" fill="#eef1f3"/>
<rect x="306" y="410.1" width="6.4" height="7.4" fill="#e57a5e"/>
<rect x="312" y="410.1" width="8.4" height="7.4" fill="#f4b090"/>
<rect x="320" y="410.1" width="13.4" height="7.4" fill="#fbe0d0"/>
<rect x="333" y="410.1" width="22.4" height="7.4" fill="#f4f3f2"/>
<rect x="355" y="410.1" width="35.4" height="7.4" fill="#e9f0f4"/>
<rect x="390" y="410.1" width="40.4" height="7.4" fill="#f2f4f5"/>
<rect x="430" y="410.1" width="40.4" height="7.4" fill="#eef2f4"/>
<rect x="470" y="410.1" width="10.4" height="7.4" fill="#f8d5c0"/>
<rect x="480" y="410.1" width="5.4" height="7.4" fill="#f6c1a5"/>
<rect x="485" y="410.1" width="20.4" height="7.4" fill="#eef2f4"/>
<rect x="505" y="410.1" width="7.4" height="7.4" fill="#f8d2bc"/>
<rect x="512" y="410.1" width="30.4" height="7.4" fill="#f1f3f4"/>
</g>
<polyline points="90,418.0 240,418.0 245,417.0 255,418.0 700,417.5 705,416.0 793.7,416.0" fill="none" stroke="#111" stroke-width="1.1"/>
<line x1="138" y1="410.0" x2="542" y2="410.0" stroke="#111" stroke-width="1.1"/>
<polygon points="91,408.0 138,409.8 91,411.7" fill="#fafafa" stroke="#222" stroke-width="1"/>
<g fill="#000"><circle cx="142.7" cy="410.0" r="0.95"/><circle cx="153.2" cy="410.0" r="0.95"/><circle cx="163.7" cy="410.0" r="0.95"/><circle cx="174.3" cy="410.0" r="0.95"/><circle cx="184.8" cy="410.0" r="0.95"/><circle cx="195.3" cy="410.0" r="0.95"/><circle cx="205.8" cy="410.0" r="0.95"/><circle cx="216.3" cy="410.0" r="0.95"/><circle cx="226.9" cy="410.0" r="0.95"/><circle cx="237.4" cy="410.0" r="0.95"/><circle cx="247.9" cy="410.0" r="0.95"/><circle cx="258.4" cy="410.0" r="0.95"/><circle cx="268.9" cy="410.0" r="0.95"/><circle cx="279.5" cy="410.0" r="0.95"/><circle cx="290.0" cy="410.0" r="0.95"/><circle cx="300.5" cy="410.0" r="0.95"/><circle cx="311.0" cy="410.0" r="0.95"/><circle cx="321.5" cy="410.0" r="0.95"/><circle cx="332.1" cy="410.0" r="0.95"/><circle cx="342.6" cy="410.0" r="0.95"/><circle cx="353.1" cy="410.0" r="0.95"/><circle cx="363.6" cy="410.0" r="0.95"/><circle cx="374.1" cy="410.0" r="0.95"/><circle cx="384.7" cy="410.0" r="0.95"/><circle cx="395.2" cy="410.0" r="0.95"/><circle cx="405.7" cy="410.0" r="0.95"/><circle cx="416.2" cy="410.0" r="0.95"/><circle cx="426.7" cy="410.0" r="0.95"/><circle cx="437.3" cy="410.0" r="0.95"/><circle cx="447.8" cy="410.0" r="0.95"/><circle cx="458.3" cy="410.0" r="0.95"/><circle cx="468.8" cy="410.0" r="0.95"/><circle cx="479.3" cy="410.0" r="0.95"/><circle cx="489.9" cy="410.0" r="0.95"/><circle cx="500.4" cy="410.0" r="0.95"/><circle cx="510.9" cy="410.0" r="0.95"/><circle cx="521.4" cy="410.0" r="0.95"/><circle cx="531.9" cy="410.0" r="0.95"/></g>
<g stroke="#000" fill="none">
<line x1="90" y1="62" x2="90" y2="773" stroke-width="3.2"/>
<line x1="88.4" y1="771.3" x2="867.6" y2="771.3" stroke-width="3.6"/>
<line x1="90" y1="771.30" x2="108" y2="771.30" stroke-width="3.2"/>
<line x1="90" y1="736.01" x2="101" y2="736.01" stroke-width="1.1"/>
<line x1="90" y1="700.72" x2="101" y2="700.72" stroke-width="1.1"/>
<line x1="90" y1="665.43" x2="101" y2="665.43" stroke-width="1.1"/>
<line x1="90" y1="630.14" x2="101" y2="630.14" stroke-width="1.1"/>
<line x1="90" y1="594.85" x2="108" y2="594.85" stroke-width="3.2"/>
<line x1="90" y1="559.56" x2="101" y2="559.56" stroke-width="1.1"/>
<line x1="90" y1="524.27" x2="101" y2="524.27" stroke-width="1.1"/>
<line x1="90" y1="488.98" x2="101" y2="488.98" stroke-width="1.1"/>
<line x1="90" y1="453.69" x2="101" y2="453.69" stroke-width="1.1"/>
<line x1="90" y1="418.40" x2="108" y2="418.40" stroke-width="3.2"/>
<line x1="90" y1="383.11" x2="101" y2="383.11" stroke-width="1.1"/>
<line x1="90" y1="347.82" x2="101" y2="347.82" stroke-width="1.1"/>
<line x1="90" y1="312.53" x2="101" y2="312.53" stroke-width="1.1"/>
<line x1="90" y1="277.24" x2="101" y2="277.24" stroke-width="1.1"/>
<line x1="90" y1="241.95" x2="108" y2="241.95" stroke-width="3.2"/>
<line x1="90" y1="206.66" x2="101" y2="206.66" stroke-width="1.1"/>
<line x1="90" y1="171.37" x2="101" y2="171.37" stroke-width="1.1"/>
<line x1="90" y1="136.08" x2="101" y2="136.08" stroke-width="1.1"/>
<line x1="90" y1="100.79" x2="101" y2="100.79" stroke-width="1.1"/>
<line x1="90" y1="65.50" x2="108" y2="65.50" stroke-width="3.2"/>
<line x1="90.00" y1="771" x2="90.00" y2="753" stroke-width="3.2"/>
<line x1="160.70" y1="771" x2="160.70" y2="760.5" stroke-width="1.1"/>
<line x1="231.40" y1="771" x2="231.40" y2="760.5" stroke-width="1.1"/>
<line x1="302.10" y1="771" x2="302.10" y2="760.5" stroke-width="1.1"/>
<line x1="372.80" y1="771" x2="372.80" y2="760.5" stroke-width="1.1"/>
<line x1="443.50" y1="771" x2="443.50" y2="753" stroke-width="3.2"/>
<line x1="514.20" y1="771" x2="514.20" y2="760.5" stroke-width="1.1"/>
<line x1="584.90" y1="771" x2="584.90" y2="760.5" stroke-width="1.1"/>
<line x1="655.60" y1="771" x2="655.60" y2="760.5" stroke-width="1.1"/>
<line x1="726.30" y1="771" x2="726.30" y2="760.5" stroke-width="1.1"/>
<line x1="797.00" y1="771" x2="797.00" y2="753" stroke-width="3.2"/>
<line x1="867.70" y1="771" x2="867.70" y2="760.5" stroke-width="1.1"/>
</g>
<g font-family="'Liberation Sans', Arial, Helvetica, sans-serif" font-size="27.5" text-anchor="middle">
<text x="90" y="799">0</text><g transform="translate(443.80,799.00)"><text id="Lbx1" x="0" y="0" text-anchor="middle" font-size="27.5">1E-05</text><rect x="-35.60" y="-2.60" width="5.74" height="3.55" fill="#fff"/><rect x="-27.27" y="-2.60" width="6.19" height="3.55" fill="#fff"/></g><text x="797" y="799">2E-05</text>
</g>
<g font-family="'Liberation Sans', Arial, Helvetica, sans-serif" font-size="28.2" text-anchor="end">
<text transform="translate(88.00,775.50) rotate(-60)">0</text>
<text transform="translate(88.00,599.05) rotate(-60)">5E-06</text>
<g transform="translate(88.00,422.60) rotate(-60)"><text id="Lby2" x="0" y="0" text-anchor="end" font-size="28.2">1E-05</text><rect x="-74.09" y="-2.66" width="5.88" height="3.61" fill="#fff"/><rect x="-65.56" y="-2.66" width="6.35" height="3.61" fill="#fff"/></g>
<g transform="translate(88.00,246.15) rotate(-60)"><text id="Lby3" x="0" y="0" text-anchor="end" font-size="28.2">1.5E-05</text><rect x="-97.61" y="-2.66" width="5.88" height="3.61" fill="#fff"/><rect x="-89.07" y="-2.66" width="6.35" height="3.61" fill="#fff"/></g>
<text transform="translate(88.00,69.70) rotate(-60)">2E-05</text>
</g>
<text transform="translate(478.5,830.7) scale(1.025,1)" text-anchor="middle" font-family="'Liberation Sans', Arial, Helvetica, sans-serif" font-weight="bold" font-size="32.5">x (m)</text>
<text transform="translate(27.6,417.5) rotate(-90) scale(1.025,1)" text-anchor="middle" font-family="'Liberation Sans', Arial, Helvetica, sans-serif" font-weight="bold" font-size="32.5">y (m)</text>
<rect x="800.5" y="72.09999999999991" width="139.5" height="617.4000000000001" fill="#fff" stroke="#555" stroke-width="1"/>
<rect x="812.5" y="101.80" width="41.799999999999955" height="16.10" fill="#b2182b"/>
<rect x="812.5" y="117.90" width="41.799999999999955" height="33.20" fill="#cc403a"/>
<rect x="812.5" y="151.10" width="41.799999999999955" height="33.20" fill="#df6851"/>
<rect x="812.5" y="184.30" width="41.799999999999955" height="33.20" fill="#ec8a69"/>
<rect x="812.5" y="217.50" width="41.799999999999955" height="33.20" fill="#f3a988"/>
<rect x="812.5" y="250.70" width="41.799999999999955" height="33.20" fill="#f8c7ad"/>
<rect x="812.5" y="283.90" width="41.799999999999955" height="33.20" fill="#fbdecc"/>
<rect x="812.5" y="317.10" width="41.799999999999955" height="33.20" fill="#f8e8dd"/>
<rect x="812.5" y="350.30" width="41.799999999999955" height="33.20" fill="#f6f0ed"/>
<rect x="812.5" y="383.50" width="41.799999999999955" height="33.20" fill="#eef3f5"/>
<rect x="812.5" y="416.70" width="41.799999999999955" height="33.20" fill="#e1ecf3"/>
<rect x="812.5" y="449.90" width="41.799999999999955" height="33.20" fill="#d4e5ef"/>
<rect x="812.5" y="483.10" width="41.799999999999955" height="33.20" fill="#b7d6e7"/>
<rect x="812.5" y="516.30" width="41.799999999999955" height="33.20" fill="#93c1dc"/>
<rect x="812.5" y="549.50" width="41.799999999999955" height="33.20" fill="#70acd1"/>
<rect x="812.5" y="582.70" width="41.799999999999955" height="33.20" fill="#5196c6"/>
<rect x="812.5" y="615.90" width="41.799999999999955" height="33.20" fill="#397fbc"/>
<rect x="812.5" y="649.10" width="41.799999999999955" height="16.10" fill="#2166ac"/>
<g stroke="#222" stroke-width="1.2">
<line x1="812.5" y1="117.90" x2="854.3" y2="117.90"/>
<line x1="812.5" y1="151.10" x2="854.3" y2="151.10"/>
<line x1="812.5" y1="184.30" x2="854.3" y2="184.30"/>
<line x1="812.5" y1="217.50" x2="854.3" y2="217.50"/>
<line x1="812.5" y1="250.70" x2="854.3" y2="250.70"/>
<line x1="812.5" y1="283.90" x2="854.3" y2="283.90"/>
<line x1="812.5" y1="317.10" x2="854.3" y2="317.10"/>
<line x1="812.5" y1="350.30" x2="854.3" y2="350.30"/>
<line x1="812.5" y1="383.50" x2="854.3" y2="383.50"/>
<line x1="812.5" y1="416.70" x2="854.3" y2="416.70"/>
<line x1="812.5" y1="449.90" x2="854.3" y2="449.90"/>
<line x1="812.5" y1="483.10" x2="854.3" y2="483.10"/>
<line x1="812.5" y1="516.30" x2="854.3" y2="516.30"/>
<line x1="812.5" y1="549.50" x2="854.3" y2="549.50"/>
<line x1="812.5" y1="582.70" x2="854.3" y2="582.70"/>
<line x1="812.5" y1="615.90" x2="854.3" y2="615.90"/>
<line x1="812.5" y1="649.10" x2="854.3" y2="649.10"/>
</g>
<rect x="812.5" y="101.79999999999995" width="41.799999999999955" height="563.4000000000001" fill="none" stroke="#333" stroke-width="1"/>
<g font-family="'Liberation Sans', Arial, Helvetica, sans-serif" font-size="28.2">
<text x="873.4" y="131.40">0.85</text>
<text x="873.4" y="164.60">0.8</text>
<text x="873.4" y="197.80">0.75</text>
<text x="873.4" y="231.00">0.7</text>
<text x="873.4" y="264.20">0.65</text>
<text x="873.4" y="297.40">0.6</text>
<text x="873.4" y="330.60">0.55</text>
<text x="873.4" y="363.80">0.5</text>
<text x="873.4" y="397.00">0.45</text>
<text x="873.4" y="430.20">0.4</text>
<text x="873.4" y="463.40">0.35</text>
<text x="873.4" y="496.60">0.3</text>
<text x="873.4" y="529.80">0.25</text>
<text x="873.4" y="563.00">0.2</text>
<g transform="translate(873.40,596.20)"><text id="L873_0.15" x="0" y="0" text-anchor="start" font-size="28.2">0.15</text><rect x="24.63" y="-2.66" width="5.88" height="3.61" fill="#fff"/><rect x="33.16" y="-2.66" width="6.35" height="3.61" fill="#fff"/></g>
<g transform="translate(873.40,629.40)"><text id="L873_0.1" x="0" y="0" text-anchor="start" font-size="28.2">0.1</text><rect x="24.63" y="-2.66" width="5.88" height="3.61" fill="#fff"/><rect x="33.16" y="-2.66" width="6.35" height="3.61" fill="#fff"/></g>
<text x="873.4" y="662.60">0.05</text>
</g>
<rect x="467.3" y="625.6" width="347.3" height="69.7" fill="#fff" stroke="#333" stroke-width="1"/>
<g font-family="'Liberation Sans', Arial, Helvetica, sans-serif" font-weight="bold" font-size="31.8">
<text transform="translate(473.2,654.6) scale(1.056,1)">Normalized by initial</text>
<text transform="translate(482.1,687.6) scale(1.058,1)">mobile density E+06</text>
</g>
</g>
<text transform="translate(474,917) scale(1.044,1)" text-anchor="middle" font-family="'Liberation Serif', 'Times New Roman', serif" font-weight="bold" font-size="55.4">(a)</text>
<text transform="translate(474.2,1907.5) scale(1.044,1)" text-anchor="middle" font-family="'Liberation Serif', 'Times New Roman', serif" font-weight="bold" font-size="55.4">(b)</text>
</svg>
</body></html>
